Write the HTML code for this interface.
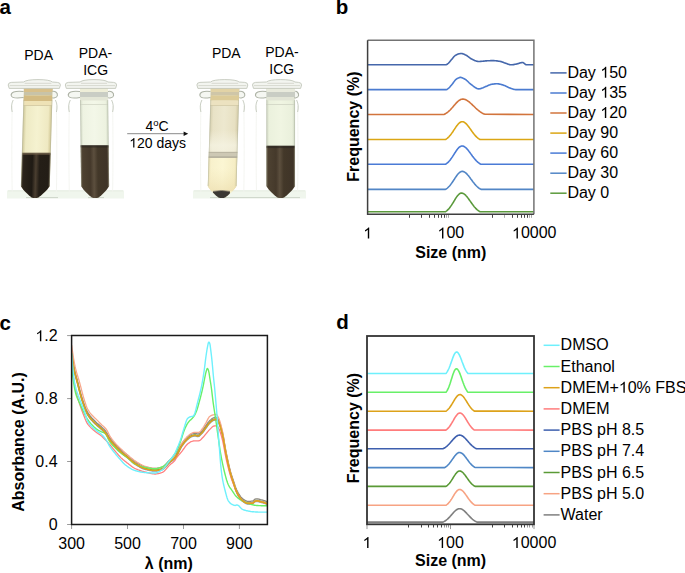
<!DOCTYPE html>
<html><head><meta charset="utf-8"><style>
html,body{margin:0;padding:0;background:#fff;}
body{width:685px;height:573px;overflow:hidden;position:relative;}
svg{position:absolute;left:0;top:0;}
text{font-family:"Liberation Sans", sans-serif;fill:#000;}
</style></head><body>
<svg width="685" height="573" viewBox="0 0 685 573">
<defs>
<linearGradient id="gDark1" x1="0" x2="1" y1="0" y2="0">
 <stop offset="0" stop-color="#5a4c3a"/><stop offset="0.1" stop-color="#2a231b"/><stop offset="0.38" stop-color="#1f1a14"/>
 <stop offset="0.5" stop-color="#4a3e30"/><stop offset="0.62" stop-color="#241e17"/><stop offset="0.9" stop-color="#231d16"/><stop offset="1" stop-color="#544636"/>
</linearGradient>
<linearGradient id="gDark2" x1="0" x2="1" y1="0" y2="0">
 <stop offset="0" stop-color="#6e604c"/><stop offset="0.1" stop-color="#4d4131"/><stop offset="0.35" stop-color="#45392b"/>
 <stop offset="0.47" stop-color="#5c4f3e"/><stop offset="0.6" stop-color="#433829"/><stop offset="0.9" stop-color="#3f3428"/><stop offset="1" stop-color="#6a5c48"/>
</linearGradient>
<linearGradient id="gCream1" x1="0" x2="1" y1="0" y2="0">
 <stop offset="0" stop-color="#cdc596"/><stop offset="0.12" stop-color="#eeeac4"/><stop offset="0.5" stop-color="#f5f2d0"/><stop offset="0.88" stop-color="#efe9c2"/><stop offset="1" stop-color="#cfc490"/>
</linearGradient>
<linearGradient id="gClear" x1="0" x2="1" y1="0" y2="0">
 <stop offset="0" stop-color="#d2d9c6"/><stop offset="0.1" stop-color="#eef3e2"/><stop offset="0.5" stop-color="#f3f7e8"/><stop offset="0.9" stop-color="#edf2e0"/><stop offset="1" stop-color="#d0d8c4"/>
</linearGradient>
<linearGradient id="gBeige" x1="0" x2="1" y1="0" y2="0">
 <stop offset="0" stop-color="#d4cdac"/><stop offset="0.12" stop-color="#e8e2c6"/><stop offset="0.5" stop-color="#ede8cf"/><stop offset="0.88" stop-color="#e7e0c2"/><stop offset="1" stop-color="#d2c9a4"/>
</linearGradient>
<linearGradient id="gYellow" x1="0" x2="1" y1="0" y2="0">
 <stop offset="0" stop-color="#e6dcae"/><stop offset="0.12" stop-color="#f8f1cc"/><stop offset="0.5" stop-color="#fbf6d3"/><stop offset="0.88" stop-color="#f6eec6"/><stop offset="1" stop-color="#e2d6a4"/>
</linearGradient>
<linearGradient id="gClear2" x1="0" x2="1" y1="0" y2="0">
 <stop offset="0" stop-color="#d0d8c4"/><stop offset="0.1" stop-color="#ebf1dd"/><stop offset="0.5" stop-color="#f0f5e2"/><stop offset="0.9" stop-color="#eaf0dc"/><stop offset="1" stop-color="#ced6c2"/>
</linearGradient>
<linearGradient id="vLight" x1="0" x2="0" y1="0" y2="1">
 <stop offset="0" stop-color="#f6f4e4" stop-opacity="0"/><stop offset="0.7" stop-color="#f6f4e4" stop-opacity="0.75"/><stop offset="1" stop-color="#f6f4e4" stop-opacity="0.6"/>
</linearGradient>
<linearGradient id="vTan" x1="0" x2="0" y1="0" y2="1">
 <stop offset="0" stop-color="#efe3b4" stop-opacity="0"/><stop offset="1" stop-color="#ead9a8" stop-opacity="0.55"/>
</linearGradient>
</defs>
<rect x="7" y="190.5" width="117" height="8" fill="#f0f6ed"/>
<rect x="193" y="190.5" width="113" height="8" fill="#f0f6ed"/>
<path d="M8,190.8 H123 M194,190.8 H305" stroke="#e2eadd" stroke-width="0.8"/>
<path d="M26,197.6 H58 M88,197.6 H104 M210,197.6 H300" stroke="#c3cbbf" stroke-width="0.8"/>
<path d="M12.2,106 C11.7,130 11.7,170 12.2,192 M56.4,106 C56.9,130 56.9,170 56.4,192" stroke="#f1f3ee" stroke-width="0.8" fill="none"/>
<g transform="matrix(1 0 -0.0300 1 4.500 0)">
<path d="M22.0,88.0 L22.0,186.0 C24.0,190.0 30.4,195.7 32.9,197.4 Q36.4,198.8 39.9,197.4 C42.4,195.7 48.8,190.0 50.8,186.0 L50.8,88.0 Z" fill="url(#gCream1)"/>
<clipPath id="cl36"><path d="M22.0,88.0 L22.0,186.0 C24.0,190.0 30.4,195.7 32.9,197.4 Q36.4,198.8 39.9,197.4 C42.4,195.7 48.8,190.0 50.8,186.0 L50.8,88.0 Z"/></clipPath>
<g clip-path="url(#cl36)">
<rect x="21.0" y="88.0" width="30.8" height="4.0" fill="#d8c08a" opacity="1"/>
<rect x="21.0" y="92.0" width="30.8" height="3.5" fill="#c8c3a8" opacity="1"/>
<rect x="21.0" y="95.5" width="30.8" height="5.5" fill="#d3bb82" opacity="1"/>
<rect x="21.0" y="101.0" width="30.8" height="4.5" fill="#eee2b6" opacity="1"/>
<rect x="21.0" y="105.2" width="30.8" height="0.9" fill="#cfc49e" opacity="1"/>
<rect x="21.0" y="153.3" width="30.8" height="46.9" fill="url(#gDark1)"/>
<rect x="20" y="152.6" width="33" height="2.4" fill="#6a5a45" opacity="0.6"/>
</g>
<path d="M22.4,100.0 L22.4,186.0 M50.4,100.0 L50.4,186.0" stroke="#a9ad9c" stroke-width="0.7" opacity="0.6" fill="none"/>
</g>
<path d="M23.6,91.5 C14.2,90.5 10.7,92.5 11.2,95.5 C11.7,98 16.2,98.5 23.6,97.5 M52.4,91.5 C54.4,90.5 57.9,92.5 57.4,95.5 C56.9,98 52.4,98.5 52.4,97.5" stroke="#aeb3a6" stroke-width="1.1" fill="#eef1ea" fill-opacity="0.6"/>
<path d="M13.2,100 C11.2,104 11.2,108 12.2,112 M55.4,100 C57.4,104 57.4,108 56.4,112" stroke="#c4c9bd" stroke-width="0.9" fill="none"/>
<path d="M8.2,85 Q8.2,82.6 11.2,82.4 L23.6,82 Q26.6,79.6 38.0,79.6 Q49.4,79.6 52.4,82 L57.4,82.4 Q60.4,82.6 60.4,85 L59.4,88.4 L9.2,88.4 Z" fill="#f3f5f0" stroke="#bcc1b5" stroke-width="0.8"/>
<path d="M9.7,85.6 H58.9 M24.6,83.3 H51.4" stroke="#cfd2c6" stroke-width="0.8" fill="none"/>
<path d="M69.3,106 C68.8,130 68.8,170 69.3,192 M112.6,106 C113.1,130 113.1,170 112.6,192" stroke="#f1f3ee" stroke-width="0.8" fill="none"/>
<g transform="matrix(1 0 0.0120 1 -1.800 0)">
<path d="M80.7,88.0 L80.7,186.0 C82.7,190.0 88.7,195.7 91.2,197.4 Q94.7,198.8 98.2,197.4 C100.7,195.7 106.7,190.0 108.7,186.0 L108.7,88.0 Z" fill="url(#gClear)"/>
<clipPath id="cl94"><path d="M80.7,88.0 L80.7,186.0 C82.7,190.0 88.7,195.7 91.2,197.4 Q94.7,198.8 98.2,197.4 C100.7,195.7 106.7,190.0 108.7,186.0 L108.7,88.0 Z"/></clipPath>
<g clip-path="url(#cl94)">
<rect x="79.7" y="88.0" width="30.0" height="4.0" fill="#eeeed8" opacity="1"/>
<rect x="79.7" y="92.0" width="30.0" height="5.0" fill="#c9cdc4" opacity="1"/>
<rect x="79.7" y="97.0" width="30.0" height="3.5" fill="#e3e6d6" opacity="1"/>
<rect x="79.7" y="104.0" width="30.0" height="0.8" fill="#d0d4c4" opacity="1"/>
<rect x="79.7" y="145.6" width="30.0" height="54.6" fill="url(#gDark2)"/>
<rect x="79" y="145" width="32" height="2.6" fill="#2a2520" opacity="0.6"/>
</g>
<path d="M81.1,100.0 L81.1,186.0 M108.3,100.0 L108.3,186.0" stroke="#a9ad9c" stroke-width="0.7" opacity="0.6" fill="none"/>
</g>
<path d="M80.0,91.5 C71.3,90.5 67.8,92.5 68.3,95.5 C68.8,98 73.3,98.5 80.0,97.5 M108.0,91.5 C110.6,90.5 114.1,92.5 113.6,95.5 C113.1,98 108.6,98.5 108.0,97.5" stroke="#aeb3a6" stroke-width="1.1" fill="#eef1ea" fill-opacity="0.6"/>
<path d="M70.3,100 C68.3,104 68.3,108 69.3,112 M111.6,100 C113.6,104 113.6,108 112.6,112" stroke="#c4c9bd" stroke-width="0.9" fill="none"/>
<path d="M65.3,85 Q65.3,82.6 68.3,82.4 L80.0,82 Q83.0,79.6 94.0,79.6 Q105.0,79.6 108.0,82 L113.6,82.4 Q116.6,82.6 116.6,85 L115.6,88.4 L66.3,88.4 Z" fill="#f3f5f0" stroke="#bcc1b5" stroke-width="0.8"/>
<path d="M66.8,85.6 H115.1 M81.0,83.3 H107.0" stroke="#cfd2c6" stroke-width="0.8" fill="none"/>
<path d="M200.9,106 C200.4,130 200.4,170 200.9,192 M243.8,106 C244.3,130 244.3,170 243.8,192" stroke="#f1f3ee" stroke-width="0.8" fill="none"/>
<g transform="matrix(1 0 -0.0300 1 4.500 0)">
<path d="M208.9,88.0 L208.9,186.0 C210.9,190.0 217.2,195.7 219.7,197.4 Q223.2,198.8 226.7,197.4 C229.2,195.7 235.5,190.0 237.5,186.0 L237.5,88.0 Z" fill="url(#gBeige)"/>
<clipPath id="cl223"><path d="M208.9,88.0 L208.9,186.0 C210.9,190.0 217.2,195.7 219.7,197.4 Q223.2,198.8 226.7,197.4 C229.2,195.7 235.5,190.0 237.5,186.0 L237.5,88.0 Z"/></clipPath>
<g clip-path="url(#cl223)">
<rect x="207.9" y="88.0" width="30.6" height="4.0" fill="#e2d3a6" opacity="1"/>
<rect x="207.9" y="92.0" width="30.6" height="3.5" fill="#cfc6a8" opacity="1"/>
<rect x="207.9" y="95.5" width="30.6" height="5.0" fill="#dccb98" opacity="1"/>
<rect x="207.9" y="100.5" width="30.6" height="4.5" fill="#ece2c0" opacity="1"/>
<rect x="207.9" y="105.0" width="30.6" height="0.8" fill="#d2c8a4" opacity="1"/>
<rect x="207.9" y="157.0" width="30.6" height="43.2" fill="url(#gYellow)"/>
<rect x="208" y="152" width="32" height="5.6" fill="#cdc8b4"/><rect x="208" y="151.8" width="32" height="1" fill="#b4b09e"/><rect x="208" y="156.6" width="32" height="1.2" fill="#aaa594"/><rect x="208" y="130" width="32" height="21.8" fill="url(#vLight)"/><rect x="208" y="168" width="32" height="23" fill="url(#vTan)"/><path d="M214.2,191.6 Q223,189.8 231.2,191.6 L231.2,200 L214.2,200 Z" fill="#3b3834"/><path d="M214.2,191.4 Q223,189.6 231.2,191.4" stroke="#7a7262" stroke-width="0.8" fill="none"/>
</g>
<path d="M209.3,100.0 L209.3,186.0 M237.1,100.0 L237.1,186.0" stroke="#a9ad9c" stroke-width="0.7" opacity="0.6" fill="none"/>
</g>
<path d="M210.5,91.5 C202.9,90.5 199.4,92.5 199.9,95.5 C200.4,98 204.9,98.5 210.5,97.5 M239.2,91.5 C241.8,90.5 245.3,92.5 244.8,95.5 C244.3,98 239.8,98.5 239.2,97.5" stroke="#aeb3a6" stroke-width="1.1" fill="#eef1ea" fill-opacity="0.6"/>
<path d="M201.9,100 C199.9,104 199.9,108 200.9,112 M242.8,100 C244.8,104 244.8,108 243.8,112" stroke="#c4c9bd" stroke-width="0.9" fill="none"/>
<path d="M196.9,85 Q196.9,82.6 199.9,82.4 L210.5,82 Q213.5,79.6 224.8,79.6 Q236.2,79.6 239.2,82 L244.8,82.4 Q247.8,82.6 247.8,85 L246.8,88.4 L197.9,88.4 Z" fill="#f3f5f0" stroke="#bcc1b5" stroke-width="0.8"/>
<path d="M198.4,85.6 H246.3 M211.5,83.3 H238.2" stroke="#cfd2c6" stroke-width="0.8" fill="none"/>
<path d="M256.5,106 C256.0,130 256.0,170 256.5,192 M297.6,106 C298.1,130 298.1,170 297.6,192" stroke="#f1f3ee" stroke-width="0.8" fill="none"/>
<g transform="matrix(1 0 0.0000 1 -0.000 0)">
<path d="M266.4,88.0 L266.4,186.0 C268.4,190.0 274.7,195.7 277.2,197.4 Q280.7,198.8 284.2,197.4 C286.7,195.7 293.0,190.0 295.0,186.0 L295.0,88.0 Z" fill="url(#gClear2)"/>
<clipPath id="cl280"><path d="M266.4,88.0 L266.4,186.0 C268.4,190.0 274.7,195.7 277.2,197.4 Q280.7,198.8 284.2,197.4 C286.7,195.7 293.0,190.0 295.0,186.0 L295.0,88.0 Z"/></clipPath>
<g clip-path="url(#cl280)">
<rect x="265.4" y="88.0" width="30.6" height="4.0" fill="#e8eadc" opacity="1"/>
<rect x="265.4" y="92.0" width="30.6" height="5.0" fill="#c9cdc4" opacity="1"/>
<rect x="265.4" y="97.0" width="30.6" height="3.5" fill="#e2e5d6" opacity="1"/>
<rect x="265.4" y="104.0" width="30.6" height="0.8" fill="#d0d4c4" opacity="1"/>
<rect x="265.4" y="146.0" width="30.6" height="54.2" fill="url(#gDark2)"/>
<rect x="265" y="145.5" width="32" height="2.6" fill="#2a2520" opacity="0.6"/>
</g>
<path d="M266.8,100.0 L266.8,186.0 M294.6,100.0 L294.6,186.0" stroke="#a9ad9c" stroke-width="0.7" opacity="0.6" fill="none"/>
</g>
<path d="M266.4,91.5 C258.5,90.5 255.0,92.5 255.5,95.5 C256.0,98 260.5,98.5 266.4,97.5 M295.0,91.5 C295.6,90.5 299.1,92.5 298.6,95.5 C298.1,98 293.6,98.5 295.0,97.5" stroke="#aeb3a6" stroke-width="1.1" fill="#eef1ea" fill-opacity="0.6"/>
<path d="M257.5,100 C255.5,104 255.5,108 256.5,112 M296.6,100 C298.6,104 298.6,108 297.6,112" stroke="#c4c9bd" stroke-width="0.9" fill="none"/>
<path d="M252.5,85 Q252.5,82.6 255.5,82.4 L266.4,82 Q269.4,79.6 280.7,79.6 Q292.0,79.6 295.0,82 L298.6,82.4 Q301.6,82.6 301.6,85 L300.6,88.4 L253.5,88.4 Z" fill="#f3f5f0" stroke="#bcc1b5" stroke-width="0.8"/>
<path d="M254.0,85.6 H300.1 M267.4,83.3 H294.0" stroke="#cfd2c6" stroke-width="0.8" fill="none"/>
<text x="-0.5" y="14.1" font-size="20.5" font-weight="bold">a</text>
<text x="335.7" y="14.2" font-size="20.5" font-weight="bold">b</text>
<text x="-0.4" y="330.2" font-size="20.5" font-weight="bold">c</text>
<text x="336.2" y="329.2" font-size="20.5" font-weight="bold">d</text>
<line x1="409.5" y1="214.2" x2="409.5" y2="217.79999999999998" stroke="#444" stroke-width="1"/>
<line x1="421.5" y1="214.2" x2="421.5" y2="217.79999999999998" stroke="#444" stroke-width="1"/>
<line x1="429.5" y1="214.2" x2="429.5" y2="217.79999999999998" stroke="#444" stroke-width="1"/>
<line x1="434.5" y1="214.2" x2="434.5" y2="217.79999999999998" stroke="#444" stroke-width="1"/>
<line x1="438.5" y1="214.2" x2="438.5" y2="217.79999999999998" stroke="#444" stroke-width="1"/>
<line x1="441.5" y1="214.2" x2="441.5" y2="217.79999999999998" stroke="#444" stroke-width="1"/>
<line x1="444.5" y1="214.2" x2="444.5" y2="217.79999999999998" stroke="#444" stroke-width="1"/>
<line x1="446.5" y1="214.2" x2="446.5" y2="217.79999999999998" stroke="#aaa" stroke-width="1"/>
<line x1="448.5" y1="214.2" x2="448.5" y2="217.79999999999998" stroke="#aaa" stroke-width="1"/>
<line x1="492.5" y1="214.2" x2="492.5" y2="217.79999999999998" stroke="#444" stroke-width="1"/>
<line x1="504.5" y1="214.2" x2="504.5" y2="217.79999999999998" stroke="#aaa" stroke-width="1"/>
<line x1="512.5" y1="214.2" x2="512.5" y2="217.79999999999998" stroke="#444" stroke-width="1"/>
<line x1="517.5" y1="214.2" x2="517.5" y2="217.79999999999998" stroke="#444" stroke-width="1"/>
<line x1="521.5" y1="214.2" x2="521.5" y2="217.79999999999998" stroke="#444" stroke-width="1"/>
<line x1="524.5" y1="214.2" x2="524.5" y2="217.79999999999998" stroke="#444" stroke-width="1"/>
<line x1="527.5" y1="214.2" x2="527.5" y2="217.79999999999998" stroke="#444" stroke-width="1"/>
<line x1="529.5" y1="214.2" x2="529.5" y2="217.79999999999998" stroke="#aaa" stroke-width="1"/>
<line x1="531.5" y1="214.2" x2="531.5" y2="217.79999999999998" stroke="#aaa" stroke-width="1"/>
<path d="M367.6,64.8 L368.1,64.8 L368.6,64.8 L369.1,64.8 L369.6,64.8 L370.1,64.8 L370.6,64.8 L371.1,64.8 L371.6,64.8 L372.1,64.8 L372.6,64.8 L373.1,64.8 L373.6,64.8 L374.1,64.8 L374.6,64.8 L375.1,64.8 L375.6,64.8 L376.1,64.8 L376.6,64.8 L377.1,64.8 L377.6,64.8 L378.1,64.8 L378.6,64.8 L379.1,64.8 L379.6,64.8 L380.1,64.8 L380.6,64.8 L381.1,64.8 L381.6,64.8 L382.1,64.8 L382.6,64.8 L383.1,64.8 L383.6,64.8 L384.1,64.8 L384.6,64.8 L385.1,64.8 L385.6,64.8 L386.1,64.8 L386.6,64.8 L387.1,64.8 L387.6,64.8 L388.1,64.8 L388.6,64.8 L389.1,64.8 L389.6,64.8 L390.1,64.8 L390.6,64.8 L391.1,64.8 L391.6,64.8 L392.1,64.8 L392.6,64.8 L393.1,64.8 L393.6,64.8 L394.1,64.8 L394.6,64.8 L395.1,64.8 L395.6,64.8 L396.1,64.8 L396.6,64.8 L397.1,64.8 L397.6,64.8 L398.1,64.8 L398.6,64.8 L399.1,64.8 L399.6,64.8 L400.1,64.8 L400.6,64.8 L401.1,64.8 L401.6,64.8 L402.1,64.8 L402.6,64.8 L403.1,64.8 L403.6,64.8 L404.1,64.8 L404.6,64.8 L405.1,64.8 L405.6,64.8 L406.1,64.8 L406.6,64.8 L407.1,64.8 L407.6,64.8 L408.1,64.8 L408.6,64.8 L409.1,64.8 L409.6,64.8 L410.1,64.8 L410.6,64.8 L411.1,64.8 L411.6,64.8 L412.1,64.8 L412.6,64.8 L413.1,64.8 L413.6,64.8 L414.1,64.8 L414.6,64.8 L415.1,64.8 L415.6,64.8 L416.1,64.8 L416.6,64.8 L417.1,64.8 L417.6,64.8 L418.1,64.8 L418.6,64.8 L419.1,64.8 L419.6,64.8 L420.1,64.8 L420.6,64.8 L421.1,64.8 L421.6,64.8 L422.1,64.8 L422.6,64.8 L423.1,64.8 L423.6,64.8 L424.1,64.8 L424.6,64.8 L425.1,64.8 L425.6,64.8 L426.1,64.8 L426.6,64.8 L427.1,64.8 L427.6,64.8 L428.1,64.8 L428.6,64.8 L429.1,64.8 L429.6,64.8 L430.1,64.8 L430.6,64.8 L431.1,64.8 L431.6,64.8 L432.1,64.8 L432.6,64.8 L433.1,64.8 L433.6,64.8 L434.1,64.8 L434.6,64.8 L435.1,64.8 L435.6,64.8 L436.1,64.8 L436.6,64.8 L437.1,64.8 L437.6,64.8 L438.1,64.8 L438.6,64.8 L439.1,64.8 L439.6,64.8 L440.1,64.8 L440.6,64.8 L441.1,64.8 L441.6,64.8 L442.1,64.8 L442.6,64.8 L443.1,64.8 L443.6,64.8 L444.1,64.8 L444.6,64.8 L445.1,64.8 L445.6,64.8 L446.1,64.8 L446.6,64.6 L447.1,64.3 L447.6,63.9 L448.1,63.5 L448.6,63.1 L449.1,62.5 L449.6,61.9 L450.1,61.3 L450.6,60.7 L451.1,60.1 L451.6,59.5 L452.1,58.9 L452.6,58.3 L453.1,57.7 L453.6,57.1 L454.1,56.5 L454.6,56 L455.1,55.6 L455.6,55.2 L456.1,55 L456.6,54.7 L457.1,54.5 L457.6,54.3 L458.1,54.1 L458.6,53.9 L459.1,53.8 L459.6,53.7 L460.1,53.6 L460.6,53.5 L461.1,53.5 L461.6,53.5 L462.1,53.6 L462.6,53.8 L463.1,53.9 L463.6,54.1 L464.1,54.3 L464.6,54.5 L465.1,54.8 L465.6,55 L466.1,55.2 L466.6,55.5 L467.1,55.8 L467.6,56.2 L468.1,56.5 L468.6,56.9 L469.1,57.3 L469.6,57.7 L470.1,58.1 L470.6,58.5 L471.1,58.8 L471.6,59.1 L472.1,59.3 L472.6,59.6 L473.1,59.8 L473.6,60 L474.1,60.2 L474.6,60.5 L475.1,60.7 L475.6,60.8 L476.1,61 L476.6,61.2 L477.1,61.3 L477.6,61.4 L478.1,61.5 L478.6,61.5 L479.1,61.5 L479.6,61.5 L480.1,61.5 L480.6,61.4 L481.1,61.4 L481.6,61.3 L482.1,61.3 L482.6,61.2 L483.1,61.2 L483.6,61.1 L484.1,61.1 L484.6,61 L485.1,61 L485.6,60.9 L486.1,60.9 L486.6,60.9 L487.1,60.8 L487.6,60.8 L488.1,60.8 L488.6,60.7 L489.1,60.7 L489.6,60.7 L490.1,60.7 L490.6,60.6 L491.1,60.6 L491.6,60.6 L492.1,60.6 L492.6,60.6 L493.1,60.6 L493.6,60.6 L494.1,60.6 L494.6,60.7 L495.1,60.7 L495.6,60.8 L496.1,60.8 L496.6,60.9 L497.1,60.9 L497.6,61 L498.1,61.1 L498.6,61.2 L499.1,61.3 L499.6,61.3 L500.1,61.4 L500.6,61.5 L501.1,61.6 L501.6,61.8 L502.1,62 L502.6,62.1 L503.1,62.3 L503.6,62.5 L504.1,62.7 L504.6,62.9 L505.1,63.1 L505.6,63.3 L506.1,63.4 L506.6,63.6 L507.1,63.8 L507.6,64 L508.1,64.2 L508.6,64.3 L509.1,64.5 L509.6,64.6 L510.1,64.7 L510.6,64.8 L511.1,64.8 L511.6,64.8 L512.1,64.7 L512.6,64.7 L513.1,64.6 L513.6,64.6 L514.1,64.5 L514.6,64.4 L515.1,64.3 L515.6,64.2 L516.1,64.1 L516.6,64 L517.1,63.9 L517.6,63.8 L518.1,63.6 L518.6,63.5 L519.1,63.3 L519.6,63.1 L520.1,63 L520.6,62.8 L521.1,62.7 L521.6,62.6 L522.1,62.5 L522.6,62.5 L523.1,62.6 L523.6,62.9 L524.1,63.3 L524.6,63.7 L525.1,64.2 L525.6,64.6 L526.1,64.8 L526.6,64.8 L527.1,64.8 L527.6,64.8 L528.1,64.8 L528.6,64.8 L529.1,64.8 L529.6,64.8 L530.1,64.8 L530.6,64.8 L531.1,64.8 L531.6,64.8 L532.1,64.8 L532.6,64.8 L533.1,64.8 L533.6,64.8 L533.9,64.8" fill="none" stroke="#4567ab" stroke-width="1.6" stroke-linejoin="round"/>
<path d="M367.6,89.6 L368.1,89.6 L368.6,89.6 L369.1,89.6 L369.6,89.6 L370.1,89.6 L370.6,89.6 L371.1,89.6 L371.6,89.6 L372.1,89.6 L372.6,89.6 L373.1,89.6 L373.6,89.6 L374.1,89.6 L374.6,89.6 L375.1,89.6 L375.6,89.6 L376.1,89.6 L376.6,89.6 L377.1,89.6 L377.6,89.6 L378.1,89.6 L378.6,89.6 L379.1,89.6 L379.6,89.6 L380.1,89.6 L380.6,89.6 L381.1,89.6 L381.6,89.6 L382.1,89.6 L382.6,89.6 L383.1,89.6 L383.6,89.6 L384.1,89.6 L384.6,89.6 L385.1,89.6 L385.6,89.6 L386.1,89.6 L386.6,89.6 L387.1,89.6 L387.6,89.6 L388.1,89.6 L388.6,89.6 L389.1,89.6 L389.6,89.6 L390.1,89.6 L390.6,89.6 L391.1,89.6 L391.6,89.6 L392.1,89.6 L392.6,89.6 L393.1,89.6 L393.6,89.6 L394.1,89.6 L394.6,89.6 L395.1,89.6 L395.6,89.6 L396.1,89.6 L396.6,89.6 L397.1,89.6 L397.6,89.6 L398.1,89.6 L398.6,89.6 L399.1,89.6 L399.6,89.6 L400.1,89.6 L400.6,89.6 L401.1,89.6 L401.6,89.6 L402.1,89.6 L402.6,89.6 L403.1,89.6 L403.6,89.6 L404.1,89.6 L404.6,89.6 L405.1,89.6 L405.6,89.6 L406.1,89.6 L406.6,89.6 L407.1,89.6 L407.6,89.6 L408.1,89.6 L408.6,89.6 L409.1,89.6 L409.6,89.6 L410.1,89.6 L410.6,89.6 L411.1,89.6 L411.6,89.6 L412.1,89.6 L412.6,89.6 L413.1,89.6 L413.6,89.6 L414.1,89.6 L414.6,89.6 L415.1,89.6 L415.6,89.6 L416.1,89.6 L416.6,89.6 L417.1,89.6 L417.6,89.6 L418.1,89.6 L418.6,89.6 L419.1,89.6 L419.6,89.6 L420.1,89.6 L420.6,89.6 L421.1,89.6 L421.6,89.6 L422.1,89.6 L422.6,89.6 L423.1,89.6 L423.6,89.6 L424.1,89.6 L424.6,89.6 L425.1,89.6 L425.6,89.6 L426.1,89.6 L426.6,89.6 L427.1,89.6 L427.6,89.6 L428.1,89.6 L428.6,89.6 L429.1,89.6 L429.6,89.6 L430.1,89.6 L430.6,89.6 L431.1,89.6 L431.6,89.6 L432.1,89.6 L432.6,89.6 L433.1,89.6 L433.6,89.6 L434.1,89.6 L434.6,89.6 L435.1,89.6 L435.6,89.6 L436.1,89.6 L436.6,89.6 L437.1,89.6 L437.6,89.6 L438.1,89.6 L438.6,89.6 L439.1,89.6 L439.6,89.6 L440.1,89.6 L440.6,89.6 L441.1,89.6 L441.6,89.6 L442.1,89.6 L442.6,89.6 L443.1,89.6 L443.6,89.6 L444.1,89.6 L444.6,89.6 L445.1,89.6 L445.6,89.6 L446.1,89.6 L446.6,89.6 L447.1,89.4 L447.6,89 L448.1,88.6 L448.6,88.2 L449.1,87.8 L449.6,87.3 L450.1,86.7 L450.6,86.1 L451.1,85.5 L451.6,84.9 L452.1,84.3 L452.6,83.7 L453.1,83 L453.6,82.3 L454.1,81.6 L454.6,80.9 L455.1,80.3 L455.6,79.7 L456.1,79.3 L456.6,78.9 L457.1,78.6 L457.6,78.4 L458.1,78.1 L458.6,77.9 L459.1,77.7 L459.6,77.5 L460.1,77.4 L460.6,77.4 L461.1,77.5 L461.6,77.6 L462.1,77.7 L462.6,77.9 L463.1,78.2 L463.6,78.4 L464.1,78.7 L464.6,79 L465.1,79.3 L465.6,79.6 L466.1,79.9 L466.6,80.4 L467.1,80.8 L467.6,81.3 L468.1,81.8 L468.6,82.3 L469.1,82.8 L469.6,83.2 L470.1,83.7 L470.6,84.1 L471.1,84.5 L471.6,84.8 L472.1,85.2 L472.6,85.6 L473.1,86 L473.6,86.4 L474.1,86.8 L474.6,87.1 L475.1,87.5 L475.6,87.8 L476.1,88.1 L476.6,88.3 L477.1,88.6 L477.6,88.7 L478.1,88.8 L478.6,88.9 L479.1,88.9 L479.6,88.8 L480.1,88.8 L480.6,88.6 L481.1,88.5 L481.6,88.3 L482.1,88.1 L482.6,87.9 L483.1,87.7 L483.6,87.4 L484.1,87.2 L484.6,87 L485.1,86.8 L485.6,86.5 L486.1,86.4 L486.6,86.2 L487.1,86 L487.6,85.7 L488.1,85.5 L488.6,85.3 L489.1,85.1 L489.6,84.9 L490.1,84.7 L490.6,84.5 L491.1,84.4 L491.6,84.3 L492.1,84.2 L492.6,84.1 L493.1,84.1 L493.6,84 L494.1,84 L494.6,83.9 L495.1,83.9 L495.6,83.8 L496.1,83.8 L496.6,83.8 L497.1,83.8 L497.6,83.8 L498.1,83.9 L498.6,83.9 L499.1,84 L499.6,84.1 L500.1,84.2 L500.6,84.3 L501.1,84.5 L501.6,84.6 L502.1,84.8 L502.6,84.9 L503.1,85 L503.6,85.2 L504.1,85.4 L504.6,85.6 L505.1,85.8 L505.6,86 L506.1,86.3 L506.6,86.5 L507.1,86.7 L507.6,87 L508.1,87.2 L508.6,87.5 L509.1,87.7 L509.6,87.9 L510.1,88 L510.6,88.2 L511.1,88.4 L511.6,88.6 L512.1,88.7 L512.6,88.9 L513.1,89.1 L513.6,89.2 L514.1,89.4 L514.6,89.5 L515.1,89.5 L515.6,89.6 L516.1,89.6 L516.6,89.6 L517.1,89.6 L517.6,89.6 L518.1,89.6 L518.6,89.6 L519.1,89.6 L519.6,89.6 L520.1,89.6 L520.6,89.6 L521.1,89.6 L521.6,89.6 L522.1,89.6 L522.6,89.6 L523.1,89.6 L523.6,89.6 L524.1,89.6 L524.6,89.6 L525.1,89.6 L525.6,89.6 L526.1,89.6 L526.6,89.6 L527.1,89.6 L527.6,89.6 L528.1,89.6 L528.6,89.6 L529.1,89.6 L529.6,89.6 L530.1,89.6 L530.6,89.6 L531.1,89.6 L531.6,89.6 L532.1,89.6 L532.6,89.6 L533.1,89.6 L533.6,89.6 L533.9,89.6" fill="none" stroke="#4b7bd0" stroke-width="1.6" stroke-linejoin="round"/>
<path d="M367.6,114.5 L443.9,114.5 L444.4,114.3 L444.9,114 L445.4,113.7 L445.9,113.4 L446.4,113.1 L446.9,112.8 L447.4,112.4 L447.9,112 L448.4,111.6 L448.9,111.1 L449.4,110.7 L449.9,110.2 L450.4,109.7 L450.9,109.1 L451.4,108.6 L451.9,108 L452.4,107.5 L452.9,106.9 L453.4,106.3 L453.9,105.7 L454.4,105.1 L454.9,104.6 L455.4,104 L455.9,103.4 L456.4,102.9 L456.9,102.4 L457.4,101.9 L457.9,101.4 L458.4,101 L458.9,100.6 L459.4,100.2 L459.9,99.9 L460.4,99.7 L460.9,99.4 L461.4,99.3 L461.9,99.2 L462.4,99.1 L462.9,99.1 L463.4,99.1 L463.9,99.2 L464.4,99.3 L464.9,99.5 L465.4,99.6 L465.9,99.8 L466.4,100.1 L466.9,100.4 L467.4,100.7 L467.9,101 L468.4,101.4 L468.9,101.7 L469.4,102.1 L469.9,102.6 L470.4,103 L470.9,103.5 L471.4,103.9 L471.9,104.4 L472.4,104.9 L472.9,105.4 L473.4,105.8 L473.9,106.3 L474.4,106.8 L474.9,107.3 L475.4,107.8 L475.9,108.3 L476.4,108.7 L476.9,109.2 L477.4,109.6 L477.9,110 L478.4,110.4 L478.9,110.8 L479.4,111.2 L479.9,111.6 L480.4,111.9 L480.9,112.3 L481.4,112.6 L481.9,112.9 L482.4,113.2 L482.9,113.4 L483.4,113.7 L483.9,113.9 L484.4,114.1 L484.9,114.3 L533.9,114.5" fill="none" stroke="#d2743c" stroke-width="1.6" stroke-linejoin="round"/>
<path d="M367.6,139.5 L445.5,139.5 L446,139.2 L446.5,138.9 L447,138.5 L447.5,138.1 L448,137.6 L448.5,137.2 L449,136.7 L449.5,136.1 L450,135.5 L450.5,134.9 L451,134.3 L451.5,133.6 L452,132.9 L452.5,132.2 L453,131.5 L453.5,130.7 L454,129.9 L454.5,129.2 L455,128.4 L455.5,127.7 L456,126.9 L456.5,126.2 L457,125.6 L457.5,124.9 L458,124.3 L458.5,123.8 L459,123.3 L459.5,122.8 L460,122.5 L460.5,122.2 L461,121.9 L461.5,121.8 L462,121.7 L462.5,121.7 L463,121.8 L463.5,121.9 L464,122.1 L464.5,122.4 L465,122.8 L465.5,123.2 L466,123.6 L466.5,124.1 L467,124.7 L467.5,125.3 L468,125.9 L468.5,126.5 L469,127.2 L469.5,127.9 L470,128.6 L470.5,129.3 L471,130 L471.5,130.7 L472,131.5 L472.5,132.1 L473,132.8 L473.5,133.5 L474,134.1 L474.5,134.7 L475,135.3 L475.5,135.9 L476,136.4 L476.5,136.9 L477,137.3 L477.5,137.8 L478,138.2 L478.5,138.6 L479,138.9 L479.5,139.2 L480,139.5 L533.9,139.5" fill="none" stroke="#dba614" stroke-width="1.6" stroke-linejoin="round"/>
<path d="M367.6,164.3 L445.5,164.3 L446,164 L446.5,163.6 L447,163.2 L447.5,162.8 L448,162.4 L448.5,161.9 L449,161.3 L449.5,160.8 L450,160.2 L450.5,159.5 L451,158.8 L451.5,158.1 L452,157.4 L452.5,156.7 L453,155.9 L453.5,155.1 L454,154.3 L454.5,153.5 L455,152.7 L455.5,152 L456,151.2 L456.5,150.5 L457,149.8 L457.5,149.1 L458,148.5 L458.5,147.9 L459,147.4 L459.5,147 L460,146.7 L460.5,146.4 L461,146.2 L461.5,146 L462,146 L462.5,146 L463,146.1 L463.5,146.3 L464,146.5 L464.5,146.8 L465,147.1 L465.5,147.5 L466,147.9 L466.5,148.4 L467,148.9 L467.5,149.5 L468,150.1 L468.5,150.7 L469,151.4 L469.5,152 L470,152.7 L470.5,153.4 L471,154.1 L471.5,154.8 L472,155.5 L472.5,156.2 L473,156.8 L473.5,157.5 L474,158.1 L474.5,158.7 L475,159.3 L475.5,159.9 L476,160.4 L476.5,161 L477,161.4 L477.5,161.9 L478,162.3 L478.5,162.7 L479,163.1 L479.5,163.5 L480,163.8 L480.5,164.1 L533.9,164.3" fill="none" stroke="#4a7bd6" stroke-width="1.6" stroke-linejoin="round"/>
<path d="M367.6,189.4 L445.5,189.4 L446,189.1 L446.5,188.7 L447,188.4 L447.5,188 L448,187.5 L448.5,187 L449,186.5 L449.5,186 L450,185.4 L450.5,184.8 L451,184.1 L451.5,183.4 L452,182.7 L452.5,182 L453,181.3 L453.5,180.5 L454,179.7 L454.5,179 L455,178.2 L455.5,177.4 L456,176.7 L456.5,176 L457,175.3 L457.5,174.6 L458,174 L458.5,173.5 L459,173 L459.5,172.5 L460,172.2 L460.5,171.9 L461,171.6 L461.5,171.5 L462,171.4 L462.5,171.4 L463,171.5 L463.5,171.6 L464,171.8 L464.5,172.1 L465,172.4 L465.5,172.7 L466,173.1 L466.5,173.6 L467,174.1 L467.5,174.7 L468,175.2 L468.5,175.8 L469,176.5 L469.5,177.1 L470,177.8 L470.5,178.5 L471,179.2 L471.5,179.8 L472,180.5 L472.5,181.2 L473,181.9 L473.5,182.5 L474,183.1 L474.5,183.8 L475,184.4 L475.5,184.9 L476,185.5 L476.5,186 L477,186.5 L477.5,186.9 L478,187.4 L478.5,187.8 L479,188.2 L479.5,188.5 L480,188.8 L480.5,189.1 L481,189.4 L533.9,189.4" fill="none" stroke="#5286c6" stroke-width="1.6" stroke-linejoin="round"/>
<path d="M367.6,211.7 L445.5,211.7 L446,211.4 L446.5,211 L447,210.6 L447.5,210.1 L448,209.7 L448.5,209.1 L449,208.6 L449.5,208 L450,207.3 L450.5,206.6 L451,205.9 L451.5,205.2 L452,204.4 L452.5,203.6 L453,202.8 L453.5,202 L454,201.1 L454.5,200.3 L455,199.5 L455.5,198.7 L456,197.9 L456.5,197.1 L457,196.4 L457.5,195.8 L458,195.2 L458.5,194.7 L459,194.2 L459.5,193.8 L460,193.5 L460.5,193.3 L461,193.1 L461.5,193.1 L462,193.1 L462.5,193.2 L463,193.4 L463.5,193.6 L464,193.9 L464.5,194.3 L465,194.7 L465.5,195.1 L466,195.7 L466.5,196.2 L467,196.8 L467.5,197.4 L468,198.1 L468.5,198.8 L469,199.5 L469.5,200.2 L470,200.9 L470.5,201.6 L471,202.3 L471.5,203 L472,203.7 L472.5,204.4 L473,205.1 L473.5,205.7 L474,206.4 L474.5,207 L475,207.5 L475.5,208.1 L476,208.6 L476.5,209.1 L477,209.6 L477.5,210 L478,210.4 L478.5,210.8 L479,211.1 L479.5,211.4 L480,211.7 L533.9,211.7" fill="none" stroke="#5b9a3c" stroke-width="1.6" stroke-linejoin="round"/>
<path d="M367.6,40.3 H533.9 V214.2" fill="none" stroke="#737373" stroke-width="1.5"/>
<path d="M367.6,40.3 V214.2 H533.9" fill="none" stroke="#3f3f3f" stroke-width="1.5"/>
<text x="363.3" y="238.4" font-size="16"> </text><path d="M369.21,238.40 L367.81,238.40 L367.81,229.82 Q367.30,230.29 366.47,230.75 Q365.64,231.21 364.99,231.45 L364.99,230.14 Q366.16,229.61 367.05,228.86 Q367.93,228.10 368.30,227.39 L369.21,227.39 Z" fill="#000"/>
<text x="437.5" y="238.4" font-size="16"> 00</text><path d="M443.41,238.40 L442.01,238.40 L442.01,229.82 Q441.50,230.29 440.68,230.75 Q439.84,231.21 439.19,231.45 L439.19,230.14 Q440.37,229.61 441.25,228.86 Q442.13,228.10 442.50,227.39 L443.41,227.39 Z" fill="#000"/>
<text x="512" y="238.4" font-size="16"> 0000</text><path d="M517.91,238.40 L516.51,238.40 L516.51,229.82 Q516.00,230.29 515.18,230.75 Q514.34,231.21 513.69,231.45 L513.69,230.14 Q514.87,229.61 515.75,228.86 Q516.63,228.10 517.00,227.39 L517.91,227.39 Z" fill="#000"/>
<text x="450.8" y="258.2" font-size="16" font-weight="bold" text-anchor="middle">Size (nm)</text>
<text transform="translate(359.3,126.6) rotate(-90)" font-size="16" font-weight="bold" text-anchor="middle">Frequency (%)</text>
<line x1="550.3" y1="72.9" x2="566.6" y2="72.9" stroke="#4567ab" stroke-width="1.5"/>
<text x="567.4" y="77.8" font-size="16">Day  50</text><path d="M606.26,77.80 L604.85,77.80 L604.85,69.22 Q604.35,69.69 603.52,70.15 Q602.69,70.61 602.03,70.85 L602.03,69.54 Q603.21,69.01 604.10,68.26 Q604.98,67.50 605.35,66.79 L606.26,66.79 Z" fill="#000"/>
<line x1="550.3" y1="93" x2="566.6" y2="93" stroke="#4b7bd0" stroke-width="1.5"/>
<text x="567.4" y="97.9" font-size="16">Day  35</text><path d="M606.26,97.85 L604.85,97.85 L604.85,89.27 Q604.35,89.74 603.52,90.20 Q602.69,90.66 602.03,90.90 L602.03,89.59 Q603.21,89.06 604.10,88.31 Q604.98,87.55 605.35,86.84 L606.26,86.84 Z" fill="#000"/>
<line x1="550.3" y1="113" x2="566.6" y2="113" stroke="#d2743c" stroke-width="1.5"/>
<text x="567.4" y="117.9" font-size="16">Day  20</text><path d="M606.26,117.90 L604.85,117.90 L604.85,109.32 Q604.35,109.79 603.52,110.25 Q602.69,110.71 602.03,110.95 L602.03,109.64 Q603.21,109.11 604.10,108.36 Q604.98,107.60 605.35,106.89 L606.26,106.89 Z" fill="#000"/>
<line x1="550.3" y1="133.1" x2="566.6" y2="133.1" stroke="#dba614" stroke-width="1.5"/>
<text x="567.4" y="138" font-size="16">Day 90</text>
<line x1="550.3" y1="153.1" x2="566.6" y2="153.1" stroke="#4a7bd6" stroke-width="1.5"/>
<text x="567.4" y="158" font-size="16">Day 60</text>
<line x1="550.3" y1="173.2" x2="566.6" y2="173.2" stroke="#5286c6" stroke-width="1.5"/>
<text x="567.4" y="178.1" font-size="16">Day 30</text>
<line x1="550.3" y1="193.2" x2="566.6" y2="193.2" stroke="#5b9a3c" stroke-width="1.5"/>
<text x="567.4" y="198.1" font-size="16">Day 0</text>
<line x1="408.5" y1="524.3" x2="408.5" y2="527.5" stroke="#444" stroke-width="1"/>
<line x1="421.5" y1="524.3" x2="421.5" y2="527.5" stroke="#444" stroke-width="1"/>
<line x1="428.5" y1="524.3" x2="428.5" y2="527.5" stroke="#444" stroke-width="1"/>
<line x1="433.5" y1="524.3" x2="433.5" y2="527.5" stroke="#444" stroke-width="1"/>
<line x1="437.5" y1="524.3" x2="437.5" y2="527.5" stroke="#444" stroke-width="1"/>
<line x1="441.5" y1="524.3" x2="441.5" y2="527.5" stroke="#444" stroke-width="1"/>
<line x1="444.5" y1="524.3" x2="444.5" y2="527.5" stroke="#999" stroke-width="1"/>
<line x1="446.5" y1="524.3" x2="446.5" y2="527.5" stroke="#999" stroke-width="1"/>
<line x1="448.5" y1="524.3" x2="448.5" y2="527.5" stroke="#999" stroke-width="1"/>
<line x1="492.5" y1="524.3" x2="492.5" y2="527.5" stroke="#444" stroke-width="1"/>
<line x1="504.5" y1="524.3" x2="504.5" y2="527.5" stroke="#444" stroke-width="1"/>
<line x1="512.5" y1="524.3" x2="512.5" y2="527.5" stroke="#444" stroke-width="1"/>
<line x1="517.5" y1="524.3" x2="517.5" y2="527.5" stroke="#444" stroke-width="1"/>
<line x1="521.5" y1="524.3" x2="521.5" y2="527.5" stroke="#444" stroke-width="1"/>
<line x1="524.5" y1="524.3" x2="524.5" y2="527.5" stroke="#444" stroke-width="1"/>
<line x1="527.5" y1="524.3" x2="527.5" y2="527.5" stroke="#999" stroke-width="1"/>
<line x1="529.5" y1="524.3" x2="529.5" y2="527.5" stroke="#999" stroke-width="1"/>
<line x1="532.5" y1="524.3" x2="532.5" y2="527.5" stroke="#999" stroke-width="1"/>
<line x1="367" y1="524.3" x2="367" y2="529.0999999999999" stroke="#999" stroke-width="1"/>
<line x1="450.5" y1="524.3" x2="450.5" y2="529.0999999999999" stroke="#999" stroke-width="1"/>
<line x1="534" y1="524.3" x2="534" y2="529.0999999999999" stroke="#999" stroke-width="1"/>
<path d="M367,373.5 L445.9,373.5 L446.4,372.9 L446.9,372.2 L447.4,371.4 L447.9,370.5 L448.4,369.5 L448.9,368.5 L449.4,367.3 L449.9,366 L450.4,364.6 L450.9,363.2 L451.4,361.8 L451.9,360.4 L452.4,359 L452.9,357.6 L453.4,356.3 L453.9,355.2 L454.4,354.2 L454.9,353.3 L455.4,352.7 L455.9,352.2 L456.4,352 L456.9,352 L457.4,352.3 L457.9,352.7 L458.4,353.3 L458.9,354.1 L459.4,355 L459.9,356.1 L460.4,357.3 L460.9,358.5 L461.4,359.8 L461.9,361.2 L462.4,362.5 L462.9,363.8 L463.4,365.1 L463.9,366.4 L464.4,367.6 L464.9,368.7 L465.4,369.7 L465.9,370.6 L466.4,371.4 L466.9,372.2 L467.4,372.8 L467.9,373.4 L534,373.5" fill="none" stroke="#6ef0fc" stroke-width="1.6" stroke-linejoin="round"/>
<path d="M367,392.3 L446,392.3 L446.5,391.6 L447,390.9 L447.5,390 L448,388.9 L448.5,387.8 L449,386.6 L449.5,385.2 L450,383.8 L450.5,382.2 L451,380.6 L451.5,379 L452,377.4 L452.5,375.8 L453,374.3 L453.5,373 L454,371.7 L454.5,370.7 L455,369.8 L455.5,369.2 L456,368.9 L456.5,368.8 L457,369 L457.5,369.3 L458,369.9 L458.5,370.6 L459,371.6 L459.5,372.6 L460,373.9 L460.5,375.2 L461,376.5 L461.5,378 L462,379.4 L462.5,380.9 L463,382.3 L463.5,383.6 L464,385 L464.5,386.2 L465,387.4 L465.5,388.4 L466,389.4 L466.5,390.2 L467,391 L467.5,391.7 L468,392.3 L534,392.3" fill="none" stroke="#68f068" stroke-width="1.6" stroke-linejoin="round"/>
<path d="M367,411.2 L445.9,411.2 L446.4,410.9 L446.9,410.5 L447.4,410 L447.9,409.6 L448.4,409 L448.9,408.5 L449.4,407.9 L449.9,407.2 L450.4,406.5 L450.9,405.8 L451.4,405 L451.9,404.2 L452.4,403.3 L452.9,402.5 L453.4,401.7 L453.9,400.8 L454.4,400 L454.9,399.2 L455.4,398.4 L455.9,397.7 L456.4,397 L456.9,396.4 L457.4,395.9 L457.9,395.4 L458.4,395.1 L458.9,394.8 L459.4,394.7 L459.9,394.6 L460.4,394.6 L460.9,394.8 L461.4,395 L461.9,395.4 L462.4,395.8 L462.9,396.3 L463.4,396.8 L463.9,397.4 L464.4,398.1 L464.9,398.9 L465.4,399.6 L465.9,400.4 L466.4,401.2 L466.9,402 L467.4,402.8 L467.9,403.6 L468.4,404.4 L468.9,405.2 L469.4,405.9 L469.9,406.6 L470.4,407.3 L470.9,407.9 L471.4,408.5 L471.9,409.1 L472.4,409.6 L472.9,410 L473.4,410.4 L473.9,410.8 L474.4,411.1 L534,411.2" fill="none" stroke="#dda21a" stroke-width="1.6" stroke-linejoin="round"/>
<path d="M367,430.1 L445.9,430.1 L446.4,429.7 L446.9,429.3 L447.4,428.9 L447.9,428.4 L448.4,427.9 L448.9,427.3 L449.4,426.7 L449.9,426 L450.4,425.3 L450.9,424.5 L451.4,423.7 L451.9,422.9 L452.4,422 L452.9,421.1 L453.4,420.3 L453.9,419.4 L454.4,418.5 L454.9,417.7 L455.4,416.9 L455.9,416.2 L456.4,415.5 L456.9,414.9 L457.4,414.3 L457.9,413.8 L458.4,413.5 L458.9,413.2 L459.4,413.1 L459.9,413 L460.4,413 L460.9,413.2 L461.4,413.4 L461.9,413.8 L462.4,414.2 L462.9,414.7 L463.4,415.3 L463.9,415.9 L464.4,416.6 L464.9,417.4 L465.4,418.2 L465.9,419 L466.4,419.8 L466.9,420.6 L467.4,421.5 L467.9,422.3 L468.4,423.1 L468.9,423.9 L469.4,424.7 L469.9,425.4 L470.4,426.1 L470.9,426.7 L471.4,427.3 L471.9,427.9 L472.4,428.4 L472.9,428.9 L473.4,429.3 L473.9,429.7 L474.4,430 L534,430.1" fill="none" stroke="#ff7c7c" stroke-width="1.6" stroke-linejoin="round"/>
<path d="M367,448.8 L442.9,448.8 L443.4,448.6 L443.9,448.3 L444.4,448 L444.9,447.7 L445.4,447.4 L445.9,447 L446.4,446.6 L446.9,446.2 L447.4,445.8 L447.9,445.3 L448.4,444.8 L448.9,444.3 L449.4,443.7 L449.9,443.2 L450.4,442.6 L450.9,442 L451.4,441.4 L451.9,440.9 L452.4,440.3 L452.9,439.7 L453.4,439.1 L453.9,438.6 L454.4,438.1 L454.9,437.6 L455.4,437.1 L455.9,436.7 L456.4,436.3 L456.9,436 L457.4,435.7 L457.9,435.4 L458.4,435.3 L458.9,435.2 L459.4,435.1 L459.9,435.1 L460.4,435.2 L460.9,435.3 L461.4,435.5 L461.9,435.7 L462.4,436 L462.9,436.3 L463.4,436.7 L463.9,437.1 L464.4,437.6 L464.9,438 L465.4,438.5 L465.9,439.1 L466.4,439.6 L466.9,440.2 L467.4,440.8 L467.9,441.3 L468.4,441.9 L468.9,442.5 L469.4,443 L469.9,443.6 L470.4,444.1 L470.9,444.6 L471.4,445.1 L471.9,445.6 L472.4,446 L472.9,446.4 L473.4,446.8 L473.9,447.2 L474.4,447.5 L474.9,447.9 L475.4,448.2 L475.9,448.4 L476.4,448.7 L534,448.8" fill="none" stroke="#3d5fae" stroke-width="1.6" stroke-linejoin="round"/>
<path d="M367,467.6 L444.7,467.6 L445.2,467.3 L445.7,467 L446.2,466.6 L446.7,466.2 L447.2,465.8 L447.7,465.3 L448.2,464.8 L448.7,464.3 L449.2,463.7 L449.7,463.1 L450.2,462.4 L450.7,461.7 L451.2,461.1 L451.7,460.3 L452.2,459.6 L452.7,458.9 L453.2,458.2 L453.7,457.5 L454.2,456.8 L454.7,456.1 L455.2,455.5 L455.7,454.9 L456.2,454.3 L456.7,453.9 L457.2,453.4 L457.7,453.1 L458.2,452.8 L458.7,452.6 L459.2,452.5 L459.7,452.5 L460.2,452.6 L460.7,452.7 L461.2,452.9 L461.7,453.2 L462.2,453.5 L462.7,453.9 L463.2,454.4 L463.7,454.9 L464.2,455.4 L464.7,456 L465.2,456.7 L465.7,457.3 L466.2,458 L466.7,458.7 L467.2,459.3 L467.7,460 L468.2,460.7 L468.7,461.4 L469.2,462 L469.7,462.7 L470.2,463.3 L470.7,463.8 L471.2,464.4 L471.7,464.9 L472.2,465.4 L472.7,465.8 L473.2,466.2 L473.7,466.6 L474.2,467 L474.7,467.3 L475.2,467.5 L534,467.6" fill="none" stroke="#4f87c6" stroke-width="1.6" stroke-linejoin="round"/>
<path d="M367,486.4 L446,486.4 L446.5,486.1 L447,485.7 L447.5,485.3 L448,484.8 L448.5,484.3 L449,483.8 L449.5,483.2 L450,482.5 L450.5,481.9 L451,481.1 L451.5,480.4 L452,479.6 L452.5,478.8 L453,478 L453.5,477.2 L454,476.4 L454.5,475.6 L455,474.9 L455.5,474.1 L456,473.5 L456.5,472.9 L457,472.3 L457.5,471.9 L458,471.5 L458.5,471.2 L459,471.1 L459.5,471 L460,471 L460.5,471.1 L461,471.3 L461.5,471.6 L462,471.9 L462.5,472.3 L463,472.8 L463.5,473.3 L464,473.9 L464.5,474.5 L465,475.1 L465.5,475.8 L466,476.5 L466.5,477.2 L467,477.9 L467.5,478.6 L468,479.3 L468.5,480 L469,480.7 L469.5,481.3 L470,482 L470.5,482.6 L471,483.1 L471.5,483.7 L472,484.2 L472.5,484.6 L473,485 L473.5,485.4 L474,485.8 L474.5,486.1 L475,486.4 L534,486.4" fill="none" stroke="#5a9a36" stroke-width="1.6" stroke-linejoin="round"/>
<path d="M367,505.2 L446,505.2 L446.5,504.9 L447,504.5 L447.5,504.1 L448,503.6 L448.5,503.1 L449,502.5 L449.5,501.9 L450,501.3 L450.5,500.6 L451,499.8 L451.5,499.1 L452,498.3 L452.5,497.5 L453,496.6 L453.5,495.8 L454,495 L454.5,494.2 L455,493.4 L455.5,492.7 L456,492 L456.5,491.4 L457,490.9 L457.5,490.4 L458,490 L458.5,489.8 L459,489.6 L459.5,489.5 L460,489.5 L460.5,489.6 L461,489.8 L461.5,490.1 L462,490.4 L462.5,490.8 L463,491.3 L463.5,491.8 L464,492.4 L464.5,493 L465,493.7 L465.5,494.4 L466,495.1 L466.5,495.8 L467,496.5 L467.5,497.3 L468,498 L468.5,498.7 L469,499.4 L469.5,500.1 L470,500.7 L470.5,501.3 L471,501.9 L471.5,502.4 L472,502.9 L472.5,503.4 L473,503.8 L473.5,504.2 L474,504.6 L474.5,504.9 L475,505.2 L534,505.2" fill="none" stroke="#f7a383" stroke-width="1.6" stroke-linejoin="round"/>
<path d="M367,522.1 L443,522.1 L443.5,521.9 L444,521.6 L444.5,521.3 L445,521 L445.5,520.7 L446,520.3 L446.5,519.9 L447,519.5 L447.5,519.1 L448,518.6 L448.5,518.1 L449,517.6 L449.5,517.1 L450,516.6 L450.5,516 L451,515.4 L451.5,514.9 L452,514.3 L452.5,513.7 L453,513.1 L453.5,512.6 L454,512 L454.5,511.5 L455,511 L455.5,510.6 L456,510.2 L456.5,509.8 L457,509.5 L457.5,509.2 L458,509 L458.5,508.8 L459,508.7 L459.5,508.7 L460,508.7 L460.5,508.8 L461,508.9 L461.5,509.1 L462,509.3 L462.5,509.6 L463,509.9 L463.5,510.3 L464,510.7 L464.5,511.1 L465,511.6 L465.5,512.1 L466,512.6 L466.5,513.1 L467,513.7 L467.5,514.2 L468,514.8 L468.5,515.3 L469,515.8 L469.5,516.4 L470,516.9 L470.5,517.4 L471,517.9 L471.5,518.4 L472,518.8 L472.5,519.3 L473,519.7 L473.5,520.1 L474,520.4 L474.5,520.8 L475,521.1 L475.5,521.4 L476,521.6 L476.5,521.9 L477,522.1 L534,522.1" fill="none" stroke="#7f7f7f" stroke-width="1.6" stroke-linejoin="round"/>
<rect x="367.0" y="336.0" width="167.0" height="188.29999999999995" fill="none" stroke="#333" stroke-width="1.8"/>
<text x="362.6" y="547.9" font-size="16"> </text><path d="M368.51,547.90 L367.11,547.90 L367.11,539.32 Q366.60,539.79 365.77,540.25 Q364.94,540.71 364.29,540.95 L364.29,539.64 Q365.46,539.11 366.35,538.36 Q367.23,537.60 367.60,536.89 L368.51,536.89 Z" fill="#000"/>
<text x="437.2" y="547.9" font-size="16"> 00</text><path d="M443.11,547.90 L441.71,547.90 L441.71,539.32 Q441.20,539.79 440.38,540.25 Q439.54,540.71 438.89,540.95 L438.89,539.64 Q440.07,539.11 440.95,538.36 Q441.83,537.60 442.20,536.89 L443.11,536.89 Z" fill="#000"/>
<text x="511.8" y="547.9" font-size="16"> 0000</text><path d="M517.71,547.90 L516.31,547.90 L516.31,539.32 Q515.80,539.79 514.98,540.25 Q514.14,540.71 513.49,540.95 L513.49,539.64 Q514.67,539.11 515.55,538.36 Q516.43,537.60 516.80,536.89 L517.71,536.89 Z" fill="#000"/>
<text x="450.6" y="566.2" font-size="16" font-weight="bold" text-anchor="middle">Size (nm)</text>
<text transform="translate(359.2,428) rotate(-90)" font-size="16" font-weight="bold" text-anchor="middle">Frequency (%)</text>
<line x1="543.6" y1="345.3" x2="559.6" y2="345.3" stroke="#6ef0fc" stroke-width="1.5"/>
<text x="560.6" y="350.3" font-size="16">DMSO</text>
<line x1="543.6" y1="366.5" x2="559.6" y2="366.5" stroke="#68f068" stroke-width="1.5"/>
<text x="560.6" y="371.5" font-size="16">Ethanol</text>
<line x1="543.6" y1="387.7" x2="559.6" y2="387.7" stroke="#dda21a" stroke-width="1.5"/>
<text x="560.6" y="392.7" font-size="16">DMEM+ 0% FBS</text><path d="M624.79,392.70 L623.38,392.70 L623.38,384.12 Q622.87,384.59 622.05,385.05 Q621.22,385.51 620.56,385.75 L620.56,384.44 Q621.74,383.91 622.62,383.16 Q623.51,382.40 623.87,381.69 L624.79,381.69 Z" fill="#000"/>
<line x1="543.6" y1="408.9" x2="559.6" y2="408.9" stroke="#ff7c7c" stroke-width="1.5"/>
<text x="560.6" y="413.9" font-size="16">DMEM</text>
<line x1="543.6" y1="430.1" x2="559.6" y2="430.1" stroke="#3d5fae" stroke-width="1.5"/>
<text x="560.6" y="435.1" font-size="16">PBS pH 8.5</text>
<line x1="543.6" y1="451.3" x2="559.6" y2="451.3" stroke="#4f87c6" stroke-width="1.5"/>
<text x="560.6" y="456.3" font-size="16">PBS pH 7.4</text>
<line x1="543.6" y1="472.5" x2="559.6" y2="472.5" stroke="#5a9a36" stroke-width="1.5"/>
<text x="560.6" y="477.5" font-size="16">PBS pH 6.5</text>
<line x1="543.6" y1="493.7" x2="559.6" y2="493.7" stroke="#f7a383" stroke-width="1.5"/>
<text x="560.6" y="498.7" font-size="16">PBS pH 5.0</text>
<line x1="543.6" y1="514.9" x2="559.6" y2="514.9" stroke="#7f7f7f" stroke-width="1.5"/>
<text x="560.6" y="519.9" font-size="16">Water</text>
<defs><clipPath id="cclip"><rect x="71.6" y="335.6" width="195.79999999999998" height="188.89999999999998"/></clipPath></defs>
<g clip-path="url(#cclip)">
<path d="M71.6,353.7 L72.1,357.5 L72.6,361 L73.1,364.3 L73.6,367.4 L74.1,370.2 L74.6,372.6 L75.1,374.8 L75.6,376.7 L76.1,378.5 L76.6,380.3 L77.1,382.2 L77.6,384.1 L78.1,386 L78.6,388 L79.1,389.9 L79.6,391.8 L80.1,393.7 L80.6,395.6 L81.1,397.4 L81.6,399.1 L82.1,400.7 L82.6,402.2 L83.1,403.7 L83.6,405.2 L84.1,406.7 L84.6,408.1 L85.1,409.5 L85.6,410.8 L86.1,411.9 L86.6,413 L87.1,414 L87.6,414.9 L88.1,415.7 L88.6,416.5 L89.1,417.2 L89.6,417.9 L90.1,418.5 L90.6,419.2 L91.1,419.8 L91.6,420.4 L92.1,420.9 L92.6,421.4 L93.1,422 L93.6,422.5 L94.1,423 L94.6,423.5 L95.1,424 L95.6,424.4 L96.1,424.9 L96.6,425.4 L97.1,425.9 L97.6,426.3 L98.1,426.7 L98.6,427.1 L99.1,427.5 L99.6,427.9 L100.1,428.3 L100.6,428.8 L101.1,429.2 L101.6,429.7 L102.1,430.1 L102.6,430.6 L103.1,431 L103.6,431.5 L104.1,432 L104.6,432.6 L105.1,433.1 L105.6,433.8 L106.1,434.5 L106.6,435.3 L107.1,436.1 L107.6,436.9 L108.1,437.8 L108.6,438.6 L109.1,439.4 L109.6,440.1 L110.1,440.8 L110.6,441.4 L111.1,442.1 L111.6,442.7 L112.1,443.3 L112.6,443.9 L113.1,444.4 L113.6,445 L114.1,445.5 L114.6,446.1 L115.1,446.6 L115.6,447.2 L116.1,447.7 L116.6,448.2 L117.1,448.8 L117.6,449.3 L118.1,449.8 L118.6,450.3 L119.1,450.8 L119.6,451.3 L120.1,451.8 L120.6,452.2 L121.1,452.7 L121.6,453.2 L122.1,453.6 L122.6,454 L123.1,454.4 L123.6,454.8 L124.1,455.2 L124.6,455.6 L125.1,455.9 L125.6,456.3 L126.1,456.7 L126.6,457.1 L127.1,457.5 L127.6,457.9 L128.1,458.3 L128.6,458.8 L129.1,459.2 L129.6,459.7 L130.1,460.1 L130.6,460.6 L131.1,461 L131.6,461.5 L132.1,461.9 L132.6,462.4 L133.1,462.8 L133.6,463.2 L134.1,463.6 L134.6,463.9 L135.1,464.2 L135.6,464.6 L136.1,464.9 L136.6,465.2 L137.1,465.6 L137.6,465.9 L138.1,466.2 L138.6,466.5 L139.1,466.8 L139.6,467.1 L140.1,467.4 L140.6,467.6 L141.1,467.9 L141.6,468.2 L142.1,468.4 L142.6,468.6 L143.1,468.8 L143.6,469 L144.1,469.2 L144.6,469.3 L145.1,469.5 L145.6,469.6 L146.1,469.7 L146.6,469.8 L147.1,470 L147.6,470.1 L148.1,470.2 L148.6,470.3 L149.1,470.4 L149.6,470.5 L150.1,470.6 L150.6,470.7 L151.1,470.8 L151.6,470.9 L152.1,471 L152.6,471 L153.1,471.1 L153.6,471.1 L154.1,471.1 L154.6,471.1 L155.1,471.1 L155.6,471.1 L156.1,471.1 L156.6,471 L157.1,471 L157.6,470.9 L158.1,470.8 L158.6,470.7 L159.1,470.6 L159.6,470.5 L160.1,470.4 L160.6,470.3 L161.1,470.1 L161.6,470 L162.1,469.8 L162.6,469.6 L163.1,469.3 L163.6,469 L164.1,468.6 L164.6,468.1 L165.1,467.7 L165.6,467.1 L166.1,466.6 L166.6,466.1 L167.1,465.5 L167.6,464.9 L168.1,464.4 L168.6,463.9 L169.1,463.4 L169.6,462.9 L170.1,462.5 L170.6,462.1 L171.1,461.7 L171.6,461.3 L172.1,460.9 L172.6,460.6 L173.1,460.2 L173.6,459.8 L174.1,459.3 L174.6,458.9 L175.1,458.3 L175.6,457.7 L176.1,456.9 L176.6,456.1 L177.1,455.3 L177.6,454.4 L178.1,453.5 L178.6,452.5 L179.1,451.4 L179.6,450.4 L180.1,449.4 L180.6,448.5 L181.1,447.6 L181.6,446.7 L182.1,446 L182.6,445.3 L183.1,444.6 L183.6,444 L184.1,443.3 L184.6,442.7 L185.1,442.1 L185.6,441.6 L186.1,441 L186.6,440.5 L187.1,440.1 L187.6,439.6 L188.1,439.2 L188.6,438.8 L189.1,438.3 L189.6,438 L190.1,437.6 L190.6,437.3 L191.1,437 L191.6,436.8 L192.1,436.6 L192.6,436.4 L193.1,436.3 L193.6,436.2 L194.1,436.1 L194.6,436 L195.1,436 L195.6,436.1 L196.1,436.2 L196.6,436.4 L197.1,436.5 L197.6,436.6 L198.1,436.7 L198.6,436.5 L199.1,436.3 L199.6,435.9 L200.1,435.4 L200.6,434.9 L201.1,434.4 L201.6,433.9 L202.1,433.4 L202.6,432.8 L203.1,432.2 L203.6,431.5 L204.1,430.8 L204.6,430.1 L205.1,429.4 L205.6,428.7 L206.1,428 L206.6,427.3 L207.1,426.6 L207.6,425.9 L208.1,425.2 L208.6,424.6 L209.1,424 L209.6,423.4 L210.1,423 L210.6,422.5 L211.1,422.1 L211.6,421.7 L212.1,421.3 L212.6,421 L213.1,420.7 L213.6,420.5 L214.1,420.3 L214.6,420.2 L215.1,420.1 L215.6,420 L216.1,420 L216.6,420 L217.1,420.3 L217.6,421 L218.1,421.9 L218.6,422.9 L219.1,423.9 L219.6,425.1 L220.1,426.5 L220.6,428.1 L221.1,429.8 L221.6,431.7 L222.1,433.6 L222.6,435.7 L223.1,438 L223.6,440.7 L224.1,443.7 L224.6,446.7 L225.1,449.7 L225.6,452.4 L226.1,454.9 L226.6,457.4 L227.1,459.8 L227.6,462.2 L228.1,464.4 L228.6,466.7 L229.1,468.8 L229.6,470.8 L230.1,472.7 L230.6,474.5 L231.1,476.3 L231.6,477.9 L232.1,479.5 L232.6,480.9 L233.1,482.4 L233.6,483.8 L234.1,485.3 L234.6,487 L235.1,488.6 L235.6,489.9 L236.1,491.2 L236.6,492.4 L237.1,493.5 L237.6,494.5 L238.1,495.5 L238.6,496.4 L239.1,497.1 L239.6,497.9 L240.1,498.6 L240.6,499.2 L241.1,499.8 L241.6,500.4 L242.1,500.9 L242.6,501.3 L243.1,501.7 L243.6,502.1 L244.1,502.4 L244.6,502.8 L245.1,503.1 L245.6,503.4 L246.1,503.6 L246.6,503.8 L247.1,504 L247.6,504 L248.1,504 L248.6,504 L249.1,504 L249.6,504 L250.1,504 L250.6,503.9 L251.1,503.9 L251.6,503.9 L252.1,503.8 L252.6,503.7 L253.1,503.6 L253.6,503.1 L254.1,502.6 L254.6,502.1 L255.1,501.8 L255.6,501.7 L256.1,501.6 L256.6,501.5 L257.1,501.5 L257.6,501.6 L258.1,501.7 L258.6,501.8 L259.1,501.9 L259.6,502 L260.1,502.2 L260.6,502.3 L261.1,502.5 L261.6,502.6 L262.1,502.7 L262.6,502.8 L263.1,503 L263.6,503.1 L264.1,503.2 L264.6,503.4 L265.1,503.6 L265.6,503.8 L266.1,504 L266.6,504.3 L267.1,504.5 L267.4,504.7" fill="none" stroke="#7aa0d8" stroke-width="1.3" stroke-linejoin="round"/>
<path d="M71.6,352.6 L72.1,356.4 L72.6,359.9 L73.1,363.2 L73.6,366.3 L74.1,369.1 L74.6,371.5 L75.1,373.7 L75.6,375.6 L76.1,377.4 L76.6,379.2 L77.1,381.1 L77.6,383 L78.1,384.9 L78.6,386.8 L79.1,388.8 L79.6,390.7 L80.1,392.6 L80.6,394.5 L81.1,396.3 L81.6,398 L82.1,399.6 L82.6,401.1 L83.1,402.6 L83.6,404.1 L84.1,405.6 L84.6,407 L85.1,408.4 L85.6,409.7 L86.1,410.8 L86.6,411.9 L87.1,412.9 L87.6,413.8 L88.1,414.6 L88.6,415.4 L89.1,416.1 L89.6,416.8 L90.1,417.4 L90.6,418.1 L91.1,418.7 L91.6,419.3 L92.1,419.8 L92.6,420.3 L93.1,420.9 L93.6,421.4 L94.1,421.9 L94.6,422.4 L95.1,422.9 L95.6,423.3 L96.1,423.8 L96.6,424.3 L97.1,424.8 L97.6,425.2 L98.1,425.6 L98.6,426 L99.1,426.4 L99.6,426.8 L100.1,427.2 L100.6,427.7 L101.1,428.1 L101.6,428.6 L102.1,429 L102.6,429.5 L103.1,429.9 L103.6,430.4 L104.1,430.9 L104.6,431.5 L105.1,432 L105.6,432.7 L106.1,433.4 L106.6,434.2 L107.1,435 L107.6,435.8 L108.1,436.7 L108.6,437.5 L109.1,438.3 L109.6,439 L110.1,439.7 L110.6,440.3 L111.1,441 L111.6,441.6 L112.1,442.2 L112.6,442.8 L113.1,443.3 L113.6,443.9 L114.1,444.4 L114.6,445 L115.1,445.5 L115.6,446.1 L116.1,446.6 L116.6,447.1 L117.1,447.6 L117.6,448.2 L118.1,448.7 L118.6,449.2 L119.1,449.7 L119.6,450.2 L120.1,450.7 L120.6,451.1 L121.1,451.6 L121.6,452.1 L122.1,452.5 L122.6,452.9 L123.1,453.3 L123.6,453.7 L124.1,454.1 L124.6,454.5 L125.1,454.8 L125.6,455.2 L126.1,455.6 L126.6,456 L127.1,456.4 L127.6,456.8 L128.1,457.2 L128.6,457.7 L129.1,458.1 L129.6,458.6 L130.1,459 L130.6,459.5 L131.1,459.9 L131.6,460.4 L132.1,460.8 L132.6,461.3 L133.1,461.7 L133.6,462.1 L134.1,462.4 L134.6,462.8 L135.1,463.1 L135.6,463.5 L136.1,463.8 L136.6,464.1 L137.1,464.5 L137.6,464.8 L138.1,465.1 L138.6,465.4 L139.1,465.7 L139.6,466 L140.1,466.3 L140.6,466.5 L141.1,466.8 L141.6,467.1 L142.1,467.3 L142.6,467.5 L143.1,467.7 L143.6,467.9 L144.1,468.1 L144.6,468.2 L145.1,468.4 L145.6,468.5 L146.1,468.6 L146.6,468.7 L147.1,468.9 L147.6,469 L148.1,469.1 L148.6,469.2 L149.1,469.3 L149.6,469.4 L150.1,469.5 L150.6,469.6 L151.1,469.7 L151.6,469.8 L152.1,469.8 L152.6,469.9 L153.1,470 L153.6,470 L154.1,470 L154.6,470 L155.1,470 L155.6,470 L156.1,470 L156.6,469.9 L157.1,469.9 L157.6,469.8 L158.1,469.7 L158.6,469.6 L159.1,469.5 L159.6,469.4 L160.1,469.3 L160.6,469.1 L161.1,469 L161.6,468.9 L162.1,468.7 L162.6,468.5 L163.1,468.2 L163.6,467.9 L164.1,467.5 L164.6,467 L165.1,466.5 L165.6,466 L166.1,465.5 L166.6,465 L167.1,464.4 L167.6,463.8 L168.1,463.3 L168.6,462.8 L169.1,462.3 L169.6,461.8 L170.1,461.4 L170.6,461 L171.1,460.6 L171.6,460.2 L172.1,459.8 L172.6,459.5 L173.1,459.1 L173.6,458.7 L174.1,458.2 L174.6,457.8 L175.1,457.2 L175.6,456.6 L176.1,455.8 L176.6,455 L177.1,454.2 L177.6,453.3 L178.1,452.4 L178.6,451.4 L179.1,450.3 L179.6,449.3 L180.1,448.3 L180.6,447.4 L181.1,446.4 L181.6,445.6 L182.1,444.9 L182.6,444.2 L183.1,443.5 L183.6,442.9 L184.1,442.2 L184.6,441.6 L185.1,441 L185.6,440.5 L186.1,439.9 L186.6,439.4 L187.1,439 L187.6,438.5 L188.1,438.1 L188.6,437.7 L189.1,437.2 L189.6,436.8 L190.1,436.5 L190.6,436.2 L191.1,435.9 L191.6,435.7 L192.1,435.5 L192.6,435.3 L193.1,435.2 L193.6,435.1 L194.1,435 L194.6,434.9 L195.1,434.9 L195.6,435 L196.1,435.1 L196.6,435.3 L197.1,435.4 L197.6,435.5 L198.1,435.6 L198.6,435.4 L199.1,435.2 L199.6,434.8 L200.1,434.3 L200.6,433.8 L201.1,433.3 L201.6,432.8 L202.1,432.3 L202.6,431.7 L203.1,431.1 L203.6,430.4 L204.1,429.7 L204.6,429 L205.1,428.2 L205.6,427.6 L206.1,426.9 L206.6,426.2 L207.1,425.5 L207.6,424.8 L208.1,424.1 L208.6,423.5 L209.1,422.9 L209.6,422.3 L210.1,421.9 L210.6,421.4 L211.1,421 L211.6,420.6 L212.1,420.2 L212.6,419.9 L213.1,419.6 L213.6,419.3 L214.1,419.2 L214.6,419.1 L215.1,419 L215.6,418.9 L216.1,418.9 L216.6,418.9 L217.1,419.2 L217.6,419.9 L218.1,420.8 L218.6,421.8 L219.1,422.8 L219.6,424 L220.1,425.4 L220.6,427 L221.1,428.7 L221.6,430.6 L222.1,432.5 L222.6,434.6 L223.1,436.9 L223.6,439.6 L224.1,442.6 L224.6,445.6 L225.1,448.6 L225.6,451.3 L226.1,453.8 L226.6,456.3 L227.1,458.7 L227.6,461.1 L228.1,463.3 L228.6,465.6 L229.1,467.7 L229.6,469.7 L230.1,471.6 L230.6,473.4 L231.1,475.2 L231.6,476.8 L232.1,478.4 L232.6,479.8 L233.1,481.3 L233.6,482.7 L234.1,484.2 L234.6,485.9 L235.1,487.5 L235.6,488.8 L236.1,490.1 L236.6,491.3 L237.1,492.4 L237.6,493.4 L238.1,494.4 L238.6,495.3 L239.1,496 L239.6,496.8 L240.1,497.5 L240.6,498.1 L241.1,498.7 L241.6,499.3 L242.1,499.8 L242.6,500.2 L243.1,500.6 L243.6,501 L244.1,501.3 L244.6,501.7 L245.1,502 L245.6,502.3 L246.1,502.5 L246.6,502.7 L247.1,502.9 L247.6,502.9 L248.1,502.9 L248.6,502.9 L249.1,502.9 L249.6,502.9 L250.1,502.9 L250.6,502.8 L251.1,502.8 L251.6,502.7 L252.1,502.7 L252.6,502.6 L253.1,502.5 L253.6,502 L254.1,501.5 L254.6,501 L255.1,500.7 L255.6,500.6 L256.1,500.5 L256.6,500.4 L257.1,500.4 L257.6,500.5 L258.1,500.6 L258.6,500.7 L259.1,500.8 L259.6,500.9 L260.1,501.1 L260.6,501.2 L261.1,501.4 L261.6,501.5 L262.1,501.6 L262.6,501.7 L263.1,501.9 L263.6,502 L264.1,502.1 L264.6,502.3 L265.1,502.5 L265.6,502.7 L266.1,502.9 L266.6,503.2 L267.1,503.4 L267.4,503.6" fill="none" stroke="#5a9a36" stroke-width="1.3" stroke-linejoin="round"/>
<path d="M71.6,356.1 L72.1,362.5 L72.6,368.4 L73.1,373.4 L73.6,377.5 L74.1,381.1 L74.6,384.4 L75.1,387.2 L75.6,389.8 L76.1,392 L76.6,394.1 L77.1,395.9 L77.6,397.6 L78.1,399.2 L78.6,400.7 L79.1,402.3 L79.6,403.8 L80.1,405.3 L80.6,406.8 L81.1,408.3 L81.6,409.7 L82.1,411 L82.6,412.4 L83.1,413.7 L83.6,414.9 L84.1,416.2 L84.6,417.5 L85.1,418.8 L85.6,420 L86.1,421.1 L86.6,422.1 L87.1,423.1 L87.6,423.8 L88.1,424.6 L88.6,425.2 L89.1,425.8 L89.6,426.3 L90.1,426.9 L90.6,427.4 L91.1,427.9 L91.6,428.3 L92.1,428.8 L92.6,429.3 L93.1,429.7 L93.6,430.2 L94.1,430.6 L94.6,431 L95.1,431.4 L95.6,431.8 L96.1,432.2 L96.6,432.5 L97.1,432.9 L97.6,433.2 L98.1,433.6 L98.6,433.9 L99.1,434.2 L99.6,434.5 L100.1,434.9 L100.6,435.3 L101.1,435.7 L101.6,436.1 L102.1,436.5 L102.6,437 L103.1,437.5 L103.6,438 L104.1,438.5 L104.6,439 L105.1,439.5 L105.6,440.1 L106.1,440.6 L106.6,441.1 L107.1,441.6 L107.6,442.2 L108.1,442.7 L108.6,443.3 L109.1,443.9 L109.6,444.4 L110.1,445 L110.6,445.6 L111.1,446.2 L111.6,446.8 L112.1,447.4 L112.6,448.1 L113.1,448.7 L113.6,449.3 L114.1,449.9 L114.6,450.5 L115.1,451.1 L115.6,451.7 L116.1,452.3 L116.6,452.9 L117.1,453.4 L117.6,454 L118.1,454.6 L118.6,455.2 L119.1,455.7 L119.6,456.3 L120.1,456.8 L120.6,457.4 L121.1,457.9 L121.6,458.3 L122.1,458.8 L122.6,459.3 L123.1,459.7 L123.6,460.1 L124.1,460.5 L124.6,460.9 L125.1,461.3 L125.6,461.7 L126.1,462.1 L126.6,462.5 L127.1,462.9 L127.6,463.2 L128.1,463.6 L128.6,464 L129.1,464.4 L129.6,464.8 L130.1,465.2 L130.6,465.6 L131.1,466 L131.6,466.4 L132.1,466.7 L132.6,467.1 L133.1,467.4 L133.6,467.7 L134.1,468 L134.6,468.3 L135.1,468.5 L135.6,468.8 L136.1,469 L136.6,469.2 L137.1,469.4 L137.6,469.6 L138.1,469.8 L138.6,470 L139.1,470.2 L139.6,470.4 L140.1,470.5 L140.6,470.7 L141.1,470.9 L141.6,471 L142.1,471.2 L142.6,471.3 L143.1,471.4 L143.6,471.6 L144.1,471.7 L144.6,471.8 L145.1,472 L145.6,472.1 L146.1,472.2 L146.6,472.4 L147.1,472.5 L147.6,472.7 L148.1,472.8 L148.6,472.9 L149.1,473.1 L149.6,473.2 L150.1,473.3 L150.6,473.4 L151.1,473.5 L151.6,473.6 L152.1,473.7 L152.6,473.8 L153.1,473.9 L153.6,473.9 L154.1,473.9 L154.6,474 L155.1,474 L155.6,474 L156.1,473.9 L156.6,473.9 L157.1,473.8 L157.6,473.7 L158.1,473.6 L158.6,473.5 L159.1,473.4 L159.6,473.3 L160.1,473.1 L160.6,473 L161.1,472.8 L161.6,472.7 L162.1,472.5 L162.6,472.3 L163.1,471.9 L163.6,471.6 L164.1,471.2 L164.6,470.7 L165.1,470.2 L165.6,469.6 L166.1,469.1 L166.6,468.5 L167.1,467.9 L167.6,467.3 L168.1,466.7 L168.6,466.2 L169.1,465.6 L169.6,465.1 L170.1,464.7 L170.6,464.2 L171.1,463.8 L171.6,463.4 L172.1,463.1 L172.6,462.7 L173.1,462.3 L173.6,461.8 L174.1,461.3 L174.6,460.8 L175.1,460.2 L175.6,459.3 L176.1,458.4 L176.6,457.7 L177.1,457 L177.6,456.4 L178.1,455.8 L178.6,455.2 L179.1,454.6 L179.6,454 L180.1,453.5 L180.6,452.9 L181.1,452.3 L181.6,451.7 L182.1,451.1 L182.6,450.4 L183.1,449.7 L183.6,449 L184.1,448.3 L184.6,447.6 L185.1,446.9 L185.6,446.2 L186.1,445.6 L186.6,445 L187.1,444.5 L187.6,444 L188.1,443.6 L188.6,443.2 L189.1,442.9 L189.6,442.5 L190.1,442.2 L190.6,441.9 L191.1,441.7 L191.6,441.5 L192.1,441.3 L192.6,441.2 L193.1,441 L193.6,440.9 L194.1,440.8 L194.6,440.8 L195.1,440.8 L195.6,440.8 L196.1,440.8 L196.6,440.8 L197.1,440.8 L197.6,440.8 L198.1,440.8 L198.6,440.8 L199.1,440.7 L199.6,440.6 L200.1,440.3 L200.6,439.8 L201.1,439.4 L201.6,438.8 L202.1,438.3 L202.6,437.8 L203.1,437.3 L203.6,436.8 L204.1,436.2 L204.6,435.5 L205.1,434.9 L205.6,434.3 L206.1,433.7 L206.6,433.1 L207.1,432.5 L207.6,431.9 L208.1,431.3 L208.6,430.7 L209.1,430.1 L209.6,429.6 L210.1,429.1 L210.6,428.6 L211.1,428.1 L211.6,427.6 L212.1,427.1 L212.6,426.7 L213.1,426.3 L213.6,426.1 L214.1,426 L214.6,425.9 L215.1,425.9 L215.6,425.8 L216.1,425.8 L216.6,425.8 L217.1,426.2 L217.6,426.7 L218.1,427.5 L218.6,428.3 L219.1,429.1 L219.6,430.3 L220.1,431.6 L220.6,433.2 L221.1,434.9 L221.6,436.7 L222.1,438.6 L222.6,440.5 L223.1,442.8 L223.6,445.3 L224.1,448.1 L224.6,450.9 L225.1,453.7 L225.6,456.2 L226.1,458.5 L226.6,460.8 L227.1,463 L227.6,465.1 L228.1,467.1 L228.6,469.1 L229.1,471 L229.6,472.8 L230.1,474.5 L230.6,476.1 L231.1,477.7 L231.6,479.2 L232.1,480.6 L232.6,481.9 L233.1,483.2 L233.6,484.5 L234.1,485.9 L234.6,487.4 L235.1,488.8 L235.6,490.1 L236.1,491.2 L236.6,492.3 L237.1,493.4 L237.6,494.4 L238.1,495.3 L238.6,496.1 L239.1,496.8 L239.6,497.5 L240.1,498.2 L240.6,498.8 L241.1,499.4 L241.6,500 L242.1,500.5 L242.6,500.9 L243.1,501.2 L243.6,501.6 L244.1,501.9 L244.6,502.2 L245.1,502.5 L245.6,502.8 L246.1,503 L246.6,503.2 L247.1,503.3 L247.6,503.4 L248.1,503.4 L248.6,503.4 L249.1,503.4 L249.6,503.4 L250.1,503.3 L250.6,503.3 L251.1,503.3 L251.6,503.2 L252.1,503.2 L252.6,503.1 L253.1,502.9 L253.6,502.6 L254.1,502.1 L254.6,501.6 L255.1,501.4 L255.6,501.2 L256.1,501.1 L256.6,501 L257.1,501.1 L257.6,501.1 L258.1,501.2 L258.6,501.3 L259.1,501.4 L259.6,501.6 L260.1,501.7 L260.6,501.9 L261.1,502 L261.6,502.1 L262.1,502.2 L262.6,502.4 L263.1,502.5 L263.6,502.6 L264.1,502.8 L264.6,502.9 L265.1,503.1 L265.6,503.3 L266.1,503.5 L266.6,503.8 L267.1,504 L267.4,504.2" fill="none" stroke="#ff8080" stroke-width="1.3" stroke-linejoin="round"/>
<path d="M71.6,351 L72.1,354.8 L72.6,358.3 L73.1,361.6 L73.6,364.7 L74.1,367.5 L74.6,369.9 L75.1,372.1 L75.6,374 L76.1,375.9 L76.6,377.7 L77.1,379.5 L77.6,381.4 L78.1,383.3 L78.6,385.3 L79.1,387.2 L79.6,389.2 L80.1,391.1 L80.6,392.9 L81.1,394.7 L81.6,396.4 L82.1,398 L82.6,399.5 L83.1,401.1 L83.6,402.6 L84.1,404 L84.6,405.4 L85.1,406.8 L85.6,408.1 L86.1,409.3 L86.6,410.4 L87.1,411.4 L87.6,412.2 L88.1,413 L88.6,413.8 L89.1,414.5 L89.6,415.2 L90.1,415.9 L90.6,416.5 L91.1,417.1 L91.6,417.7 L92.1,418.2 L92.6,418.8 L93.1,419.3 L93.6,419.8 L94.1,420.3 L94.6,420.8 L95.1,421.3 L95.6,421.8 L96.1,422.3 L96.6,422.7 L97.1,423.2 L97.6,423.6 L98.1,424 L98.6,424.4 L99.1,424.8 L99.6,425.3 L100.1,425.7 L100.6,426.1 L101.1,426.5 L101.6,427 L102.1,427.4 L102.6,427.9 L103.1,428.4 L103.6,428.8 L104.1,429.3 L104.6,429.9 L105.1,430.5 L105.6,431.1 L106.1,431.9 L106.6,432.6 L107.1,433.4 L107.6,434.3 L108.1,435.1 L108.6,435.9 L109.1,436.7 L109.6,437.4 L110.1,438.1 L110.6,438.8 L111.1,439.4 L111.6,440 L112.1,440.6 L112.6,441.2 L113.1,441.7 L113.6,442.3 L114.1,442.9 L114.6,443.4 L115.1,443.9 L115.6,444.5 L116.1,445 L116.6,445.5 L117.1,446.1 L117.6,446.6 L118.1,447.1 L118.6,447.6 L119.1,448.1 L119.6,448.6 L120.1,449.1 L120.6,449.6 L121.1,450 L121.6,450.5 L122.1,450.9 L122.6,451.3 L123.1,451.7 L123.6,452.1 L124.1,452.5 L124.6,452.9 L125.1,453.3 L125.6,453.6 L126.1,454 L126.6,454.4 L127.1,454.8 L127.6,455.2 L128.1,455.6 L128.6,456.1 L129.1,456.5 L129.6,457 L130.1,457.4 L130.6,457.9 L131.1,458.3 L131.6,458.8 L132.1,459.2 L132.6,459.7 L133.1,460.1 L133.6,460.5 L134.1,460.9 L134.6,461.2 L135.1,461.6 L135.6,461.9 L136.1,462.2 L136.6,462.6 L137.1,462.9 L137.6,463.2 L138.1,463.5 L138.6,463.8 L139.1,464.1 L139.6,464.4 L140.1,464.7 L140.6,465 L141.1,465.2 L141.6,465.5 L142.1,465.7 L142.6,465.9 L143.1,466.1 L143.6,466.3 L144.1,466.5 L144.6,466.7 L145.1,466.8 L145.6,466.9 L146.1,467 L146.6,467.2 L147.1,467.3 L147.6,467.4 L148.1,467.5 L148.6,467.6 L149.1,467.8 L149.6,467.9 L150.1,468 L150.6,468 L151.1,468.1 L151.6,468.2 L152.1,468.3 L152.6,468.3 L153.1,468.4 L153.6,468.4 L154.1,468.4 L154.6,468.5 L155.1,468.5 L155.6,468.4 L156.1,468.4 L156.6,468.4 L157.1,468.3 L157.6,468.2 L158.1,468.2 L158.6,468.1 L159.1,467.9 L159.6,467.8 L160.1,467.7 L160.6,467.6 L161.1,467.4 L161.6,467.3 L162.1,467.1 L162.6,466.9 L163.1,466.6 L163.6,466.3 L164.1,465.9 L164.6,465.5 L165.1,465 L165.6,464.5 L166.1,463.9 L166.6,463.4 L167.1,462.8 L167.6,462.3 L168.1,461.7 L168.6,461.2 L169.1,460.7 L169.6,460.2 L170.1,459.8 L170.6,459.4 L171.1,459 L171.6,458.6 L172.1,458.3 L172.6,457.9 L173.1,457.5 L173.6,457.1 L174.1,456.7 L174.6,456.2 L175.1,455.6 L175.6,455 L176.1,454.2 L176.6,453.5 L177.1,452.6 L177.6,451.8 L178.1,450.8 L178.6,449.8 L179.1,448.8 L179.6,447.7 L180.1,446.7 L180.6,445.8 L181.1,444.9 L181.6,444.1 L182.1,443.3 L182.6,442.6 L183.1,441.9 L183.6,441.3 L184.1,440.6 L184.6,440 L185.1,439.5 L185.6,438.9 L186.1,438.4 L186.6,437.9 L187.1,437.4 L187.6,437 L188.1,436.5 L188.6,436.1 L189.1,435.7 L189.6,435.3 L190.1,434.9 L190.6,434.6 L191.1,434.3 L191.6,434.1 L192.1,433.9 L192.6,433.8 L193.1,433.6 L193.6,433.5 L194.1,433.4 L194.6,433.4 L195.1,433.4 L195.6,433.4 L196.1,433.6 L196.6,433.7 L197.1,433.8 L197.6,434 L198.1,434 L198.6,433.9 L199.1,433.6 L199.6,433.2 L200.1,432.8 L200.6,432.3 L201.1,431.7 L201.6,431.2 L202.1,430.7 L202.6,430.1 L203.1,429.5 L203.6,428.8 L204.1,428.1 L204.6,427.4 L205.1,426.7 L205.6,426 L206.1,425.3 L206.6,424.6 L207.1,423.9 L207.6,423.2 L208.1,422.5 L208.6,421.9 L209.1,421.3 L209.6,420.8 L210.1,420.3 L210.6,419.9 L211.1,419.4 L211.6,419 L212.1,418.6 L212.6,418.3 L213.1,418 L213.6,417.8 L214.1,417.6 L214.6,417.5 L215.1,417.4 L215.6,417.4 L216.1,417.3 L216.6,417.3 L217.1,417.6 L217.6,418.3 L218.1,419.2 L218.6,420.2 L219.1,421.2 L219.6,422.4 L220.1,423.8 L220.6,425.4 L221.1,427.2 L221.6,429 L222.1,431 L222.6,433 L223.1,435.4 L223.6,438.1 L224.1,441 L224.6,444 L225.1,447 L225.6,449.7 L226.1,452.2 L226.6,454.7 L227.1,457.1 L227.6,459.5 L228.1,461.8 L228.6,464 L229.1,466.1 L229.6,468.1 L230.1,470 L230.6,471.9 L231.1,473.6 L231.6,475.2 L232.1,476.8 L232.6,478.3 L233.1,479.7 L233.6,481.1 L234.1,482.7 L234.6,484.3 L235.1,485.9 L235.6,487.3 L236.1,488.5 L236.6,489.7 L237.1,490.8 L237.6,491.9 L238.1,492.8 L238.6,493.7 L239.1,494.5 L239.6,495.2 L240.1,495.9 L240.6,496.6 L241.1,497.2 L241.6,497.7 L242.1,498.2 L242.6,498.7 L243.1,499 L243.6,499.4 L244.1,499.7 L244.6,500.1 L245.1,500.4 L245.6,500.7 L246.1,500.9 L246.6,501.1 L247.1,501.3 L247.6,501.4 L248.1,501.4 L248.6,501.4 L249.1,501.3 L249.6,501.3 L250.1,501.3 L250.6,501.3 L251.1,501.2 L251.6,501.2 L252.1,501.1 L252.6,501.1 L253.1,500.9 L253.6,500.5 L254.1,499.9 L254.6,499.4 L255.1,499.2 L255.6,499 L256.1,498.9 L256.6,498.8 L257.1,498.9 L257.6,498.9 L258.1,499 L258.6,499.1 L259.1,499.2 L259.6,499.4 L260.1,499.5 L260.6,499.7 L261.1,499.8 L261.6,499.9 L262.1,500 L262.6,500.1 L263.1,500.3 L263.6,500.4 L264.1,500.6 L264.6,500.7 L265.1,500.9 L265.6,501.1 L266.1,501.3 L266.6,501.6 L267.1,501.8 L267.4,502" fill="none" stroke="#8f8a80" stroke-width="1.3" stroke-linejoin="round"/>
<path d="M71.6,345.2 L72.1,348.7 L72.6,352.1 L73.1,355.4 L73.6,358.5 L74.1,361.4 L74.6,364 L75.1,366.5 L75.6,368.7 L76.1,370.6 L76.6,372.5 L77.1,374.2 L77.6,375.8 L78.1,377.4 L78.6,379 L79.1,380.7 L79.6,382.5 L80.1,384.3 L80.6,386.2 L81.1,388.2 L81.6,390.1 L82.1,392.1 L82.6,394 L83.1,395.8 L83.6,397.6 L84.1,399.3 L84.6,400.9 L85.1,402.4 L85.6,403.9 L86.1,405.4 L86.6,406.7 L87.1,407.9 L87.6,409 L88.1,409.9 L88.6,410.7 L89.1,411.5 L89.6,412.3 L90.1,413 L90.6,413.6 L91.1,414.2 L91.6,414.8 L92.1,415.3 L92.6,415.8 L93.1,416.3 L93.6,416.8 L94.1,417.3 L94.6,417.7 L95.1,418.2 L95.6,418.6 L96.1,419.1 L96.6,419.6 L97.1,420.1 L97.6,420.6 L98.1,421.1 L98.6,421.6 L99.1,422.2 L99.6,422.7 L100.1,423.2 L100.6,423.7 L101.1,424.2 L101.6,424.7 L102.1,425.2 L102.6,425.6 L103.1,426.1 L103.6,426.5 L104.1,427 L104.6,427.5 L105.1,428 L105.6,428.5 L106.1,429.1 L106.6,429.8 L107.1,430.6 L107.6,431.5 L108.1,432.5 L108.6,433.6 L109.1,434.6 L109.6,435.6 L110.1,436.4 L110.6,437.2 L111.1,437.9 L111.6,438.6 L112.1,439.3 L112.6,439.9 L113.1,440.6 L113.6,441.2 L114.1,441.8 L114.6,442.4 L115.1,443 L115.6,443.5 L116.1,444.1 L116.6,444.6 L117.1,445.2 L117.6,445.7 L118.1,446.2 L118.6,446.7 L119.1,447.1 L119.6,447.6 L120.1,448.1 L120.6,448.6 L121.1,449.1 L121.6,449.5 L122.1,450 L122.6,450.5 L123.1,451 L123.6,451.4 L124.1,451.9 L124.6,452.4 L125.1,452.8 L125.6,453.3 L126.1,453.8 L126.6,454.2 L127.1,454.6 L127.6,455.1 L128.1,455.5 L128.6,455.9 L129.1,456.3 L129.6,456.7 L130.1,457.2 L130.6,457.6 L131.1,458 L131.6,458.3 L132.1,458.7 L132.6,459.1 L133.1,459.5 L133.6,459.8 L134.1,460.2 L134.6,460.5 L135.1,460.9 L135.6,461.2 L136.1,461.6 L136.6,461.9 L137.1,462.2 L137.6,462.5 L138.1,462.8 L138.6,463.1 L139.1,463.4 L139.6,463.7 L140.1,464 L140.6,464.3 L141.1,464.5 L141.6,464.8 L142.1,465.1 L142.6,465.3 L143.1,465.6 L143.6,465.8 L144.1,466 L144.6,466.2 L145.1,466.3 L145.6,466.5 L146.1,466.6 L146.6,466.8 L147.1,467 L147.6,467.1 L148.1,467.3 L148.6,467.4 L149.1,467.5 L149.6,467.7 L150.1,467.8 L150.6,467.9 L151.1,468 L151.6,468.1 L152.1,468.2 L152.6,468.3 L153.1,468.4 L153.6,468.4 L154.1,468.4 L154.6,468.5 L155.1,468.5 L155.6,468.4 L156.1,468.4 L156.6,468.4 L157.1,468.3 L157.6,468.3 L158.1,468.2 L158.6,468.2 L159.1,468.1 L159.6,468 L160.1,467.9 L160.6,467.8 L161.1,467.7 L161.6,467.6 L162.1,467.5 L162.6,467.3 L163.1,467.1 L163.6,466.8 L164.1,466.5 L164.6,466.2 L165.1,465.8 L165.6,465.4 L166.1,464.9 L166.6,464.5 L167.1,464 L167.6,463.5 L168.1,463 L168.6,462.5 L169.1,462 L169.6,461.5 L170.1,461 L170.6,460.5 L171.1,460.1 L171.6,459.6 L172.1,459.1 L172.6,458.5 L173.1,457.9 L173.6,457.3 L174.1,456.5 L174.6,455.7 L175.1,454.8 L175.6,453.4 L176.1,452 L176.6,451 L177.1,450.1 L177.6,449.3 L178.1,448.5 L178.6,447.7 L179.1,447 L179.6,446.3 L180.1,445.7 L180.6,445 L181.1,444.4 L181.6,443.7 L182.1,443 L182.6,442.4 L183.1,441.7 L183.6,441 L184.1,440.3 L184.6,439.7 L185.1,439 L185.6,438.4 L186.1,437.9 L186.6,437.3 L187.1,436.8 L187.6,436.3 L188.1,435.9 L188.6,435.4 L189.1,435 L189.6,434.6 L190.1,434.2 L190.6,433.9 L191.1,433.6 L191.6,433.3 L192.1,433.1 L192.6,432.9 L193.1,432.7 L193.6,432.5 L194.1,432.4 L194.6,432.3 L195.1,432.3 L195.6,432.3 L196.1,432.3 L196.6,432.3 L197.1,432.3 L197.6,432.3 L198.1,432.3 L198.6,432.3 L199.1,432.2 L199.6,432 L200.1,431.6 L200.6,431.1 L201.1,430.4 L201.6,429.7 L202.1,429 L202.6,428.4 L203.1,427.7 L203.6,426.9 L204.1,426 L204.6,425.2 L205.1,424.3 L205.6,423.4 L206.1,422.6 L206.6,421.6 L207.1,420.6 L207.6,419.6 L208.1,418.6 L208.6,417.8 L209.1,417 L209.6,416.5 L210.1,416.2 L210.6,415.9 L211.1,415.6 L211.6,415.4 L212.1,415.2 L212.6,415 L213.1,414.9 L213.6,414.8 L214.1,414.6 L214.6,414.5 L215.1,414.4 L215.6,414.3 L216.1,414.3 L216.6,414.6 L217.1,415.2 L217.6,416 L218.1,417 L218.6,418 L219.1,419 L219.6,420.4 L220.1,421.9 L220.6,423.6 L221.1,425.5 L221.6,427.6 L222.1,429.7 L222.6,431.9 L223.1,434.5 L223.6,437.4 L224.1,440.5 L224.6,443.8 L225.1,446.9 L225.6,449.9 L226.1,452.5 L226.6,455.1 L227.1,457.6 L227.6,460 L228.1,462.3 L228.6,464.6 L229.1,466.8 L229.6,468.9 L230.1,471 L230.6,472.9 L231.1,474.8 L231.6,476.5 L232.1,478.1 L232.6,479.6 L233.1,481.1 L233.6,482.5 L234.1,484.1 L234.6,485.8 L235.1,487.4 L235.6,488.8 L236.1,490.1 L236.6,491.3 L237.1,492.5 L237.6,493.5 L238.1,494.5 L238.6,495.4 L239.1,496.2 L239.6,497 L240.1,497.7 L240.6,498.4 L241.1,499 L241.6,499.6 L242.1,500.1 L242.6,500.5 L243.1,500.9 L243.6,501.3 L244.1,501.6 L244.6,502 L245.1,502.3 L245.6,502.6 L246.1,502.8 L246.6,503 L247.1,503.2 L247.6,503.2 L248.1,503.2 L248.6,503.2 L249.1,503.2 L249.6,503.2 L250.1,503.2 L250.6,503.1 L251.1,503.1 L251.6,503.1 L252.1,503 L252.6,502.9 L253.1,502.8 L253.6,502.4 L254.1,501.8 L254.6,501.3 L255.1,501 L255.6,500.9 L256.1,500.8 L256.6,500.7 L257.1,500.7 L257.6,500.8 L258.1,500.9 L258.6,501 L259.1,501.1 L259.6,501.3 L260.1,501.4 L260.6,501.5 L261.1,501.7 L261.6,501.8 L262.1,501.9 L262.6,502 L263.1,502.2 L263.6,502.3 L264.1,502.5 L264.6,502.6 L265.1,502.8 L265.6,503 L266.1,503.2 L266.6,503.5 L267.1,503.7 L267.4,503.9" fill="none" stroke="#f8a88c" stroke-width="1.3" stroke-linejoin="round"/>
<path d="M71.6,366.1 L72.1,370.7 L72.6,374.9 L73.1,378.7 L73.6,382.2 L74.1,385.3 L74.6,388.3 L75.1,390.9 L75.6,393.1 L76.1,394.8 L76.6,396.3 L77.1,397.6 L77.6,398.7 L78.1,399.8 L78.6,400.9 L79.1,402.1 L79.6,403.2 L80.1,404.3 L80.6,405.4 L81.1,406.5 L81.6,407.6 L82.1,408.6 L82.6,409.6 L83.1,410.7 L83.6,411.7 L84.1,412.8 L84.6,413.9 L85.1,414.9 L85.6,415.9 L86.1,416.9 L86.6,417.8 L87.1,418.7 L87.6,419.4 L88.1,420.1 L88.6,420.8 L89.1,421.5 L89.6,422.1 L90.1,422.8 L90.6,423.4 L91.1,424 L91.6,424.5 L92.1,425.1 L92.6,425.6 L93.1,426.1 L93.6,426.6 L94.1,427.1 L94.6,427.5 L95.1,427.9 L95.6,428.3 L96.1,428.7 L96.6,429.1 L97.1,429.4 L97.6,429.8 L98.1,430.1 L98.6,430.4 L99.1,430.7 L99.6,430.9 L100.1,431.2 L100.6,431.4 L101.1,431.7 L101.6,431.9 L102.1,432.1 L102.6,432.2 L103.1,432.4 L103.6,432.6 L104.1,432.8 L104.6,433 L105.1,433.4 L105.6,433.9 L106.1,434.6 L106.6,435.5 L107.1,436.5 L107.6,437.5 L108.1,438.6 L108.6,439.7 L109.1,440.6 L109.6,441.5 L110.1,442.2 L110.6,442.9 L111.1,443.5 L111.6,444.1 L112.1,444.7 L112.6,445.2 L113.1,445.8 L113.6,446.3 L114.1,446.8 L114.6,447.3 L115.1,447.8 L115.6,448.3 L116.1,448.8 L116.6,449.3 L117.1,449.7 L117.6,450.2 L118.1,450.7 L118.6,451.1 L119.1,451.5 L119.6,452 L120.1,452.4 L120.6,452.8 L121.1,453.2 L121.6,453.6 L122.1,454 L122.6,454.4 L123.1,454.7 L123.6,455.1 L124.1,455.4 L124.6,455.8 L125.1,456.1 L125.6,456.4 L126.1,456.8 L126.6,457.1 L127.1,457.5 L127.6,457.9 L128.1,458.3 L128.6,458.7 L129.1,459.2 L129.6,459.7 L130.1,460.1 L130.6,460.6 L131.1,461.1 L131.6,461.6 L132.1,462 L132.6,462.5 L133.1,462.9 L133.6,463.2 L134.1,463.6 L134.6,463.9 L135.1,464.1 L135.6,464.4 L136.1,464.6 L136.6,464.8 L137.1,465 L137.6,465.2 L138.1,465.4 L138.6,465.6 L139.1,465.8 L139.6,466 L140.1,466.1 L140.6,466.3 L141.1,466.4 L141.6,466.6 L142.1,466.7 L142.6,466.8 L143.1,467 L143.6,467.1 L144.1,467.2 L144.6,467.3 L145.1,467.4 L145.6,467.5 L146.1,467.6 L146.6,467.7 L147.1,467.8 L147.6,467.9 L148.1,468 L148.6,468.1 L149.1,468.2 L149.6,468.3 L150.1,468.3 L150.6,468.4 L151.1,468.5 L151.6,468.6 L152.1,468.6 L152.6,468.7 L153.1,468.7 L153.6,468.7 L154.1,468.8 L154.6,468.8 L155.1,468.8 L155.6,468.8 L156.1,468.7 L156.6,468.6 L157.1,468.6 L157.6,468.4 L158.1,468.3 L158.6,468.2 L159.1,468 L159.6,467.9 L160.1,467.7 L160.6,467.5 L161.1,467.3 L161.6,467.2 L162.1,467 L162.6,466.7 L163.1,466.5 L163.6,466.2 L164.1,465.8 L164.6,465.5 L165.1,465.1 L165.6,464.7 L166.1,464.2 L166.6,463.8 L167.1,463.3 L167.6,462.8 L168.1,462.3 L168.6,461.8 L169.1,461.3 L169.6,460.7 L170.1,460.2 L170.6,459.6 L171.1,459 L171.6,458.4 L172.1,457.7 L172.6,457 L173.1,456.3 L173.6,455.5 L174.1,454.8 L174.6,454.1 L175.1,453.4 L175.6,452.7 L176.1,452 L176.6,451.1 L177.1,450.1 L177.6,449 L178.1,447.8 L178.6,446.6 L179.1,445.3 L179.6,444 L180.1,442.7 L180.6,441.3 L181.1,439.9 L181.6,438.3 L182.1,436.7 L182.6,435.1 L183.1,433.5 L183.6,432.1 L184.1,430.8 L184.6,429.5 L185.1,428.3 L185.6,427.1 L186.1,426.1 L186.6,425.1 L187.1,424.2 L187.6,423.4 L188.1,422.7 L188.6,422 L189.1,421.4 L189.6,420.8 L190.1,420.3 L190.6,419.9 L191.1,419.4 L191.6,419 L192.1,418.4 L192.6,417.9 L193.1,417.3 L193.6,416.7 L194.1,416 L194.6,415.2 L195.1,414.3 L195.6,413.3 L196.1,412.1 L196.6,410.8 L197.1,409.4 L197.6,407.8 L198.1,406 L198.6,404.2 L199.1,402.4 L199.6,400.6 L200.1,398.7 L200.6,396.8 L201.1,394.9 L201.6,392.9 L202.1,390.8 L202.6,388.7 L203.1,386.4 L203.6,383.9 L204.1,381.2 L204.6,378.7 L205.1,376.1 L205.6,373.6 L206.1,371.7 L206.6,369.9 L207.1,368.6 L207.6,368.5 L208.1,369.4 L208.6,370.8 L209.1,373.1 L209.6,376.6 L210.1,379.8 L210.6,382.8 L211.1,386 L211.6,389.6 L212.1,393.9 L212.6,398.2 L213.1,402.2 L213.6,405.7 L214.1,409 L214.6,412.2 L215.1,415.4 L215.6,418.7 L216.1,422.1 L216.6,425.7 L217.1,429.3 L217.6,432.9 L218.1,436.4 L218.6,440 L219.1,443.6 L219.6,447.1 L220.1,450.4 L220.6,453.3 L221.1,456.1 L221.6,458.8 L222.1,461.4 L222.6,463.8 L223.1,466.2 L223.6,468.4 L224.1,470.5 L224.6,472.5 L225.1,474.5 L225.6,476.4 L226.1,478.2 L226.6,480 L227.1,481.6 L227.6,483 L228.1,484.3 L228.6,485.3 L229.1,486.2 L229.6,487.1 L230.1,487.8 L230.6,488.5 L231.1,489.2 L231.6,489.9 L232.1,490.6 L232.6,491.3 L233.1,492.1 L233.6,492.9 L234.1,493.7 L234.6,494.4 L235.1,495.1 L235.6,495.7 L236.1,496.2 L236.6,496.8 L237.1,497.2 L237.6,497.7 L238.1,498.1 L238.6,498.5 L239.1,498.9 L239.6,499.3 L240.1,499.6 L240.6,499.9 L241.1,500.2 L241.6,500.5 L242.1,500.8 L242.6,501 L243.1,501.3 L243.6,501.5 L244.1,501.7 L244.6,502 L245.1,502.2 L245.6,502.4 L246.1,502.6 L246.6,502.8 L247.1,503 L247.6,503.2 L248.1,503.4 L248.6,503.5 L249.1,503.7 L249.6,503.8 L250.1,504 L250.6,504.2 L251.1,504.3 L251.6,504.5 L252.1,504.6 L252.6,504.8 L253.1,504.9 L253.6,505 L254.1,505.2 L254.6,505.3 L255.1,505.3 L255.6,505.4 L256.1,505.4 L256.6,505.5 L257.1,505.5 L257.6,505.5 L258.1,505.5 L258.6,505.6 L259.1,505.6 L259.6,505.6 L260.1,505.6 L260.6,505.6 L261.1,505.7 L261.6,505.7 L262.1,505.7 L262.6,505.7 L263.1,505.7 L263.6,505.7 L264.1,505.7 L264.6,505.7 L265.1,505.8 L265.6,505.8 L266.1,505.8 L266.6,505.8 L267.1,505.8 L267.4,505.8" fill="none" stroke="#68f068" stroke-width="1.4" stroke-linejoin="round"/>
<path d="M71.6,353.1 L72.1,356.8 L72.6,360.4 L73.1,363.7 L73.6,366.8 L74.1,369.5 L74.6,372 L75.1,374.1 L75.6,376.1 L76.1,377.9 L76.6,379.7 L77.1,381.5 L77.6,383.4 L78.1,385.4 L78.6,387.3 L79.1,389.3 L79.6,391.2 L80.1,393.1 L80.6,395 L81.1,396.7 L81.6,398.4 L82.1,400.1 L82.6,401.6 L83.1,403.1 L83.6,404.6 L84.1,406.1 L84.6,407.5 L85.1,408.8 L85.6,410.1 L86.1,411.3 L86.6,412.4 L87.1,413.4 L87.6,414.3 L88.1,415.1 L88.6,415.8 L89.1,416.6 L89.6,417.3 L90.1,417.9 L90.6,418.5 L91.1,419.1 L91.6,419.7 L92.1,420.3 L92.6,420.8 L93.1,421.3 L93.6,421.8 L94.1,422.3 L94.6,422.8 L95.1,423.3 L95.6,423.8 L96.1,424.3 L96.6,424.8 L97.1,425.2 L97.6,425.7 L98.1,426.1 L98.6,426.5 L99.1,426.9 L99.6,427.3 L100.1,427.7 L100.6,428.1 L101.1,428.6 L101.6,429 L102.1,429.5 L102.6,429.9 L103.1,430.4 L103.6,430.9 L104.1,431.4 L104.6,431.9 L105.1,432.5 L105.6,433.2 L106.1,433.9 L106.6,434.7 L107.1,435.5 L107.6,436.3 L108.1,437.2 L108.6,438 L109.1,438.8 L109.6,439.5 L110.1,440.2 L110.6,440.8 L111.1,441.4 L111.6,442 L112.1,442.6 L112.6,443.2 L113.1,443.8 L113.6,444.4 L114.1,444.9 L114.6,445.4 L115.1,446 L115.6,446.5 L116.1,447.1 L116.6,447.6 L117.1,448.1 L117.6,448.6 L118.1,449.2 L118.6,449.7 L119.1,450.2 L119.6,450.7 L120.1,451.1 L120.6,451.6 L121.1,452.1 L121.6,452.5 L122.1,453 L122.6,453.4 L123.1,453.8 L123.6,454.2 L124.1,454.6 L124.6,454.9 L125.1,455.3 L125.6,455.7 L126.1,456.1 L126.6,456.5 L127.1,456.9 L127.6,457.3 L128.1,457.7 L128.6,458.1 L129.1,458.6 L129.6,459 L130.1,459.5 L130.6,459.9 L131.1,460.4 L131.6,460.8 L132.1,461.3 L132.6,461.7 L133.1,462.1 L133.6,462.5 L134.1,462.9 L134.6,463.3 L135.1,463.6 L135.6,463.9 L136.1,464.3 L136.6,464.6 L137.1,464.9 L137.6,465.2 L138.1,465.6 L138.6,465.9 L139.1,466.2 L139.6,466.5 L140.1,466.7 L140.6,467 L141.1,467.3 L141.6,467.5 L142.1,467.8 L142.6,468 L143.1,468.2 L143.6,468.4 L144.1,468.5 L144.6,468.7 L145.1,468.8 L145.6,469 L146.1,469.1 L146.6,469.2 L147.1,469.3 L147.6,469.5 L148.1,469.6 L148.6,469.7 L149.1,469.8 L149.6,469.9 L150.1,470 L150.6,470.1 L151.1,470.2 L151.6,470.3 L152.1,470.3 L152.6,470.4 L153.1,470.4 L153.6,470.5 L154.1,470.5 L154.6,470.5 L155.1,470.5 L155.6,470.5 L156.1,470.5 L156.6,470.4 L157.1,470.4 L157.6,470.3 L158.1,470.2 L158.6,470.1 L159.1,470 L159.6,469.9 L160.1,469.8 L160.6,469.6 L161.1,469.5 L161.6,469.3 L162.1,469.2 L162.6,469 L163.1,468.7 L163.6,468.3 L164.1,467.9 L164.6,467.5 L165.1,467 L165.6,466.5 L166.1,466 L166.6,465.4 L167.1,464.9 L167.6,464.3 L168.1,463.8 L168.6,463.2 L169.1,462.7 L169.6,462.3 L170.1,461.8 L170.6,461.4 L171.1,461 L171.6,460.7 L172.1,460.3 L172.6,459.9 L173.1,459.6 L173.6,459.2 L174.1,458.7 L174.6,458.2 L175.1,457.7 L175.6,457 L176.1,456.3 L176.6,455.5 L177.1,454.7 L177.6,453.8 L178.1,452.8 L178.6,451.8 L179.1,450.8 L179.6,449.8 L180.1,448.8 L180.6,447.8 L181.1,446.9 L181.6,446.1 L182.1,445.4 L182.6,444.7 L183.1,444 L183.6,443.3 L184.1,442.7 L184.6,442.1 L185.1,441.5 L185.6,440.9 L186.1,440.4 L186.6,439.9 L187.1,439.4 L187.6,439 L188.1,438.6 L188.6,438.1 L189.1,437.7 L189.6,437.3 L190.1,437 L190.6,436.6 L191.1,436.3 L191.6,436.1 L192.1,436 L192.6,435.8 L193.1,435.7 L193.6,435.6 L194.1,435.5 L194.6,435.4 L195.1,435.4 L195.6,435.5 L196.1,435.6 L196.6,435.7 L197.1,435.9 L197.6,436 L198.1,436 L198.6,435.9 L199.1,435.7 L199.6,435.3 L200.1,434.8 L200.6,434.3 L201.1,433.8 L201.6,433.3 L202.1,432.7 L202.6,432.2 L203.1,431.5 L203.6,430.8 L204.1,430.1 L204.6,429.4 L205.1,428.7 L205.6,428 L206.1,427.4 L206.6,426.7 L207.1,426 L207.6,425.3 L208.1,424.6 L208.6,423.9 L209.1,423.3 L209.6,422.8 L210.1,422.4 L210.6,421.9 L211.1,421.5 L211.6,421.1 L212.1,420.7 L212.6,420.3 L213.1,420 L213.6,419.8 L214.1,419.7 L214.6,419.6 L215.1,419.5 L215.6,419.4 L216.1,419.4 L216.6,419.4 L217.1,419.7 L217.6,420.4 L218.1,421.3 L218.6,422.2 L219.1,423.3 L219.6,424.5 L220.1,425.9 L220.6,427.5 L221.1,429.2 L221.6,431.1 L222.1,433 L222.6,435 L223.1,437.4 L223.6,440.1 L224.1,443.1 L224.6,446.1 L225.1,449 L225.6,451.8 L226.1,454.3 L226.6,456.8 L227.1,459.2 L227.6,461.5 L228.1,463.8 L228.6,466 L229.1,468.1 L229.6,470.2 L230.1,472.1 L230.6,473.9 L231.1,475.6 L231.6,477.3 L232.1,478.8 L232.6,480.3 L233.1,481.7 L233.6,483.2 L234.1,484.7 L234.6,486.3 L235.1,487.9 L235.6,489.3 L236.1,490.6 L236.6,491.7 L237.1,492.9 L237.6,493.9 L238.1,494.9 L238.6,495.7 L239.1,496.5 L239.6,497.2 L240.1,497.9 L240.6,498.6 L241.1,499.2 L241.6,499.8 L242.1,500.3 L242.6,500.7 L243.1,501.1 L243.6,501.4 L244.1,501.8 L244.6,502.1 L245.1,502.5 L245.6,502.7 L246.1,503 L246.6,503.2 L247.1,503.3 L247.6,503.4 L248.1,503.4 L248.6,503.4 L249.1,503.4 L249.6,503.4 L250.1,503.3 L250.6,503.3 L251.1,503.3 L251.6,503.2 L252.1,503.2 L252.6,503.1 L253.1,502.9 L253.6,502.5 L254.1,502 L254.6,501.5 L255.1,501.2 L255.6,501.1 L256.1,501 L256.6,500.9 L257.1,500.9 L257.6,500.9 L258.1,501 L258.6,501.1 L259.1,501.3 L259.6,501.4 L260.1,501.6 L260.6,501.7 L261.1,501.8 L261.6,502 L262.1,502.1 L262.6,502.2 L263.1,502.3 L263.6,502.5 L264.1,502.6 L264.6,502.8 L265.1,503 L265.6,503.2 L266.1,503.4 L266.6,503.6 L267.1,503.9 L267.4,504" fill="none" stroke="#dca21e" stroke-width="1.6" stroke-linejoin="round"/>
<path d="M71.6,353.1 L72.1,359.9 L72.6,366 L73.1,371.2 L73.6,376 L74.1,380.1 L74.6,382.9 L75.1,385.2 L75.6,387.3 L76.1,389.2 L76.6,390.9 L77.1,392.4 L77.6,393.8 L78.1,395.2 L78.6,396.5 L79.1,397.8 L79.6,399.1 L80.1,400.4 L80.6,401.8 L81.1,403 L81.6,404.2 L82.1,405.4 L82.6,406.6 L83.1,407.7 L83.6,409 L84.1,410.3 L84.6,411.8 L85.1,413.5 L85.6,415.3 L86.1,417.1 L86.6,418.8 L87.1,420.2 L87.6,421.2 L88.1,422 L88.6,422.8 L89.1,423.6 L89.6,424.2 L90.1,424.9 L90.6,425.4 L91.1,426 L91.6,426.5 L92.1,427 L92.6,427.5 L93.1,427.9 L93.6,428.4 L94.1,428.8 L94.6,429.2 L95.1,429.6 L95.6,430 L96.1,430.4 L96.6,430.9 L97.1,431.2 L97.6,431.6 L98.1,431.9 L98.6,432.3 L99.1,432.6 L99.6,432.9 L100.1,433.3 L100.6,433.7 L101.1,434.1 L101.6,434.6 L102.1,435 L102.6,435.5 L103.1,436.1 L103.6,436.6 L104.1,437.2 L104.6,437.8 L105.1,438.5 L105.6,439.1 L106.1,439.8 L106.6,440.7 L107.1,441.5 L107.6,442.5 L108.1,443.4 L108.6,444.4 L109.1,445.3 L109.6,446.2 L110.1,447 L110.6,447.7 L111.1,448.4 L111.6,449.1 L112.1,449.7 L112.6,450.4 L113.1,451 L113.6,451.6 L114.1,452.2 L114.6,452.8 L115.1,453.4 L115.6,454.1 L116.1,454.7 L116.6,455.3 L117.1,455.9 L117.6,456.5 L118.1,457 L118.6,457.6 L119.1,458.2 L119.6,458.8 L120.1,459.3 L120.6,459.9 L121.1,460.5 L121.6,461 L122.1,461.6 L122.6,462.2 L123.1,462.7 L123.6,463.3 L124.1,463.8 L124.6,464.3 L125.1,464.7 L125.6,465.1 L126.1,465.4 L126.6,465.8 L127.1,466.2 L127.6,466.6 L128.1,466.9 L128.6,467.3 L129.1,467.6 L129.6,467.9 L130.1,468.2 L130.6,468.5 L131.1,468.8 L131.6,469.1 L132.1,469.4 L132.6,469.6 L133.1,469.8 L133.6,470 L134.1,470.2 L134.6,470.4 L135.1,470.6 L135.6,470.7 L136.1,470.9 L136.6,471 L137.1,471.1 L137.6,471.3 L138.1,471.4 L138.6,471.5 L139.1,471.6 L139.6,471.7 L140.1,471.9 L140.6,472 L141.1,472.1 L141.6,472.1 L142.1,472.2 L142.6,472.3 L143.1,472.4 L143.6,472.4 L144.1,472.5 L144.6,472.5 L145.1,472.6 L145.6,472.6 L146.1,472.6 L146.6,472.7 L147.1,472.7 L147.6,472.7 L148.1,472.8 L148.6,472.8 L149.1,472.8 L149.6,472.9 L150.1,472.9 L150.6,472.9 L151.1,472.9 L151.6,473 L152.1,473 L152.6,473 L153.1,473 L153.6,473 L154.1,473 L154.6,473 L155.1,473 L155.6,473 L156.1,472.9 L156.6,472.8 L157.1,472.6 L157.6,472.4 L158.1,472.2 L158.6,471.9 L159.1,471.7 L159.6,471.4 L160.1,471.1 L160.6,470.7 L161.1,470.4 L161.6,470.1 L162.1,469.8 L162.6,469.4 L163.1,468.9 L163.6,468.5 L164.1,467.9 L164.6,467.4 L165.1,466.8 L165.6,466.1 L166.1,465.5 L166.6,464.8 L167.1,464.1 L167.6,463.4 L168.1,462.7 L168.6,462 L169.1,461.3 L169.6,460.7 L170.1,460 L170.6,459.4 L171.1,458.8 L171.6,458.1 L172.1,457.5 L172.6,456.9 L173.1,456.2 L173.6,455.5 L174.1,454.7 L174.6,453.9 L175.1,453 L175.6,451.8 L176.1,450.6 L176.6,449.5 L177.1,448.3 L177.6,447.1 L178.1,446 L178.6,444.8 L179.1,443.5 L179.6,442.3 L180.1,441 L180.6,439.6 L181.1,438.1 L181.6,436.5 L182.1,434.8 L182.6,433 L183.1,431.3 L183.6,429.6 L184.1,427.9 L184.6,426.4 L185.1,424.7 L185.6,423.1 L186.1,421.5 L186.6,420.2 L187.1,419.2 L187.6,418.5 L188.1,418 L188.6,417.6 L189.1,417.3 L189.6,417 L190.1,416.8 L190.6,416.7 L191.1,416.6 L191.6,416.5 L192.1,416.4 L192.6,416.3 L193.1,416.1 L193.6,415.8 L194.1,414.9 L194.6,413.7 L195.1,412.3 L195.6,410.6 L196.1,408.6 L196.6,406.4 L197.1,404.3 L197.6,402.3 L198.1,400.4 L198.6,398.5 L199.1,396.6 L199.6,394.7 L200.1,392.7 L200.6,390.5 L201.1,388.3 L201.6,385.9 L202.1,383.3 L202.6,380.5 L203.1,377.6 L203.6,374.4 L204.1,371.1 L204.6,367.4 L205.1,363.3 L205.6,359.2 L206.1,355.5 L206.6,352.1 L207.1,349 L207.6,346.3 L208.1,343.8 L208.6,342.1 L209.1,342.1 L209.6,343 L210.1,344.9 L210.6,348.9 L211.1,352.9 L211.6,357.2 L212.1,361.8 L212.6,367.2 L213.1,373.1 L213.6,378.4 L214.1,382.9 L214.6,387.8 L215.1,393.2 L215.6,399 L216.1,404.7 L216.6,410.5 L217.1,416.6 L217.6,423.8 L218.1,431.4 L218.6,438.1 L219.1,444.4 L219.6,450.8 L220.1,457.6 L220.6,463.8 L221.1,468.7 L221.6,473 L222.1,476.6 L222.6,479.6 L223.1,482.2 L223.6,484.5 L224.1,486.6 L224.6,488.6 L225.1,490.5 L225.6,492.5 L226.1,494.4 L226.6,496.2 L227.1,497.9 L227.6,499.3 L228.1,500.5 L228.6,501.3 L229.1,501.9 L229.6,502.5 L230.1,503.1 L230.6,503.5 L231.1,503.9 L231.6,504.2 L232.1,504.5 L232.6,504.7 L233.1,504.9 L233.6,505.1 L234.1,505.3 L234.6,505.4 L235.1,505.5 L235.6,505.4 L236.1,505.1 L236.6,505 L237.1,505 L237.6,505.1 L238.1,505.3 L238.6,505.6 L239.1,506.1 L239.6,506.8 L240.1,507.3 L240.6,507.8 L241.1,508.3 L241.6,508.7 L242.1,509.1 L242.6,509.4 L243.1,509.6 L243.6,509.8 L244.1,510 L244.6,510.2 L245.1,510.3 L245.6,510.4 L246.1,510.6 L246.6,510.7 L247.1,510.8 L247.6,510.9 L248.1,511 L248.6,511.1 L249.1,511.2 L249.6,511.3 L250.1,511.4 L250.6,511.5 L251.1,511.6 L251.6,511.6 L252.1,511.7 L252.6,511.7 L253.1,511.8 L253.6,511.8 L254.1,511.9 L254.6,511.9 L255.1,511.9 L255.6,512 L256.1,512 L256.6,512 L257.1,512 L257.6,512 L258.1,512.1 L258.6,512.1 L259.1,512.1 L259.6,512.1 L260.1,512.1 L260.6,512.1 L261.1,512.1 L261.6,512.1 L262.1,512.1 L262.6,512.1 L263.1,512.1 L263.6,512.1 L264.1,512.1 L264.6,512.1 L265.1,512.1 L265.6,512.1 L266.1,512.1 L266.6,512.1 L267.1,512.1 L267.4,512.1" fill="none" stroke="#6ef0fc" stroke-width="1.4" stroke-linejoin="round"/>
</g>
<line x1="67.1" y1="524.5" x2="71.6" y2="524.5" stroke="#9a9a9a" stroke-width="1"/>
<line x1="67.1" y1="461.5" x2="71.6" y2="461.5" stroke="#9a9a9a" stroke-width="1"/>
<line x1="67.1" y1="398.6" x2="71.6" y2="398.6" stroke="#9a9a9a" stroke-width="1"/>
<line x1="67.1" y1="335.6" x2="71.6" y2="335.6" stroke="#9a9a9a" stroke-width="1"/>
<line x1="71.6" y1="524.5" x2="71.6" y2="529.0" stroke="#9a9a9a" stroke-width="1"/>
<line x1="127.5" y1="524.5" x2="127.5" y2="529.0" stroke="#9a9a9a" stroke-width="1"/>
<line x1="183.5" y1="524.5" x2="183.5" y2="529.0" stroke="#9a9a9a" stroke-width="1"/>
<line x1="239.4" y1="524.5" x2="239.4" y2="529.0" stroke="#9a9a9a" stroke-width="1"/>
<path d="M71.6,335.6 H267.4 V524.5 H71.6 Z" fill="none" stroke="#1a1a1a" stroke-width="1.5"/>
<text x="57.6" y="530.1" font-size="16" text-anchor="end">0</text>
<text x="57.6" y="467.1" font-size="16" text-anchor="end">0.4</text>
<text x="57.6" y="404.2" font-size="16" text-anchor="end">0.8</text>
<text x="35.4" y="341.2" font-size="16"> .2</text><path d="M41.32,341.20 L39.91,341.20 L39.91,332.62 Q39.40,333.09 38.58,333.55 Q37.75,334.01 37.09,334.25 L37.09,332.94 Q38.27,332.41 39.15,331.66 Q40.04,330.90 40.40,330.19 L41.32,330.19 Z" fill="#000"/>
<text x="71.6" y="548.6" font-size="16" text-anchor="middle">300</text>
<text x="127.5" y="548.6" font-size="16" text-anchor="middle">500</text>
<text x="183.5" y="548.6" font-size="16" text-anchor="middle">700</text>
<text x="239.4" y="548.6" font-size="16" text-anchor="middle">900</text>
<text x="168.8" y="569.3" font-size="16" font-weight="bold" text-anchor="middle">λ (nm)</text>
<text transform="translate(23.7,442) rotate(-90)" font-size="16" font-weight="bold" text-anchor="middle">Absorbance (A.U.)</text>
<text x="38.6" y="59.5" font-size="14" text-anchor="middle">PDA</text>
<text x="95.5" y="58.4" font-size="14" text-anchor="middle">PDA-</text>
<text x="95.6" y="75.1" font-size="14" text-anchor="middle">ICG</text>
<text x="226.3" y="58" font-size="14" text-anchor="middle">PDA</text>
<text x="282" y="57" font-size="14" text-anchor="middle">PDA-</text>
<text x="281.8" y="73.9" font-size="14" text-anchor="middle">ICG</text>
<text x="157" y="130.8" font-size="14" text-anchor="middle">4<tspan font-size="9.5" dy="-4.5">o</tspan><tspan dy="4.5">C</tspan></text>
<text x="129.2" y="147.6" font-size="14"> 20 days</text><path d="M134.41,147.60 L133.18,147.60 L133.18,140.09 Q132.73,140.50 132.01,140.91 Q131.28,141.31 130.71,141.51 L130.71,140.38 Q131.74,139.91 132.51,139.25 Q133.28,138.59 133.61,137.97 L134.41,137.97 Z" fill="#000"/>
<line x1="127.2" y1="133.7" x2="185" y2="133.7" stroke="#8a8a8a" stroke-width="1"/>
<path d="M183.6,131.4 L188.2,133.7 L183.6,136 Z" fill="#111"/>
</svg>
</body></html>
